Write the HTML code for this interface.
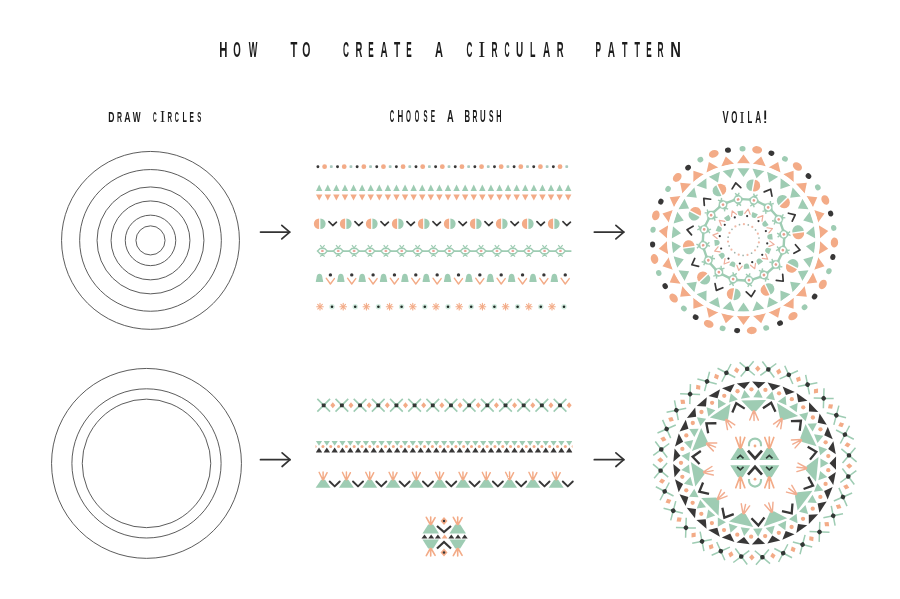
<!DOCTYPE html><html><head><meta charset="utf-8"><style>html,body{margin:0;padding:0;background:#fff;}body{width:900px;height:599px;overflow:hidden;}svg{display:block;}</style></head><body>
<svg width="900" height="599" viewBox="0 0 900 599">
<rect width="900" height="599" fill="#fff"/>
<g style="filter:grayscale(1)">
<text transform="translate(219.26,57) scale(0.5121,1)" font-family='"Liberation Sans", sans-serif' font-weight="bold" font-size="22.17" fill="#1c1c1c">H</text>
<text transform="translate(233.31,57) scale(0.4411,1)" font-family='"Liberation Sans", sans-serif' font-weight="bold" font-size="21.86" fill="#1c1c1c">O</text>
<text transform="translate(248.7,57) scale(0.4126,1)" font-family='"Liberation Sans", sans-serif' font-weight="bold" font-size="22.17" fill="#1c1c1c">W</text>
<text transform="translate(290.59,57) scale(0.5045,1)" font-family='"Liberation Sans", sans-serif' font-weight="bold" font-size="22.17" fill="#1c1c1c">T</text>
<text transform="translate(302.28,57) scale(0.4806,1)" font-family='"Liberation Sans", sans-serif' font-weight="bold" font-size="21.86" fill="#1c1c1c">O</text>
<text transform="translate(342.97,57) scale(0.3772,1)" font-family='"Liberation Sans", sans-serif' font-weight="bold" font-size="21.86" fill="#1c1c1c">C</text>
<text transform="translate(355.39,57) scale(0.4261,1)" font-family='"Liberation Sans", sans-serif' font-weight="bold" font-size="22.17" fill="#1c1c1c">R</text>
<text transform="translate(368.17,57) scale(0.3672,1)" font-family='"Liberation Sans", sans-serif' font-weight="bold" font-size="22.17" fill="#1c1c1c">E</text>
<text transform="translate(380.45,57) scale(0.4442,1)" font-family='"Liberation Sans", sans-serif' font-weight="bold" font-size="22.17" fill="#1c1c1c">A</text>
<text transform="translate(393.9,57) scale(0.4586,1)" font-family='"Liberation Sans", sans-serif' font-weight="bold" font-size="22.17" fill="#1c1c1c">T</text>
<text transform="translate(406.17,57) scale(0.3672,1)" font-family='"Liberation Sans", sans-serif' font-weight="bold" font-size="22.17" fill="#1c1c1c">E</text>
<text transform="translate(435.02,57) scale(0.4981,1)" font-family='"Liberation Sans", sans-serif' font-weight="bold" font-size="22.17" fill="#1c1c1c">A</text>
<text transform="translate(466.38,57) scale(0.3702,1)" font-family='"Liberation Sans", sans-serif' font-weight="bold" font-size="21.86" fill="#1c1c1c">C</text>
<text transform="translate(478.16,57) scale(0.9047,1)" font-family='"Liberation Serif", serif' font-weight="normal" font-size="23.36" fill="#1c1c1c">I</text>
<text transform="translate(491.46,57) scale(0.3764,1)" font-family='"Liberation Sans", sans-serif' font-weight="bold" font-size="22.17" fill="#1c1c1c">R</text>
<text transform="translate(504.42,57) scale(0.3213,1)" font-family='"Liberation Sans", sans-serif' font-weight="bold" font-size="21.86" fill="#1c1c1c">C</text>
<text transform="translate(516.1,57) scale(0.4510,1)" font-family='"Liberation Sans", sans-serif' font-weight="bold" font-size="22.17" fill="#1c1c1c">U</text>
<text transform="translate(530.12,57) scale(0.4028,1)" font-family='"Liberation Sans", sans-serif' font-weight="bold" font-size="22.17" fill="#1c1c1c">L</text>
<text transform="translate(543.05,57) scale(0.4510,1)" font-family='"Liberation Sans", sans-serif' font-weight="bold" font-size="22.17" fill="#1c1c1c">A</text>
<text transform="translate(556.69,57) scale(0.4261,1)" font-family='"Liberation Sans", sans-serif' font-weight="bold" font-size="22.17" fill="#1c1c1c">R</text>
<text transform="translate(595.46,57) scale(0.3719,1)" font-family='"Liberation Sans", sans-serif' font-weight="bold" font-size="22.17" fill="#1c1c1c">P</text>
<text transform="translate(607.75,57) scale(0.4510,1)" font-family='"Liberation Sans", sans-serif' font-weight="bold" font-size="22.17" fill="#1c1c1c">A</text>
<text transform="translate(621.91,57) scale(0.4051,1)" font-family='"Liberation Sans", sans-serif' font-weight="bold" font-size="22.17" fill="#1c1c1c">T</text>
<text transform="translate(634.61,57) scale(0.4051,1)" font-family='"Liberation Sans", sans-serif' font-weight="bold" font-size="22.17" fill="#1c1c1c">T</text>
<text transform="translate(646.17,57) scale(0.3672,1)" font-family='"Liberation Sans", sans-serif' font-weight="bold" font-size="22.17" fill="#1c1c1c">E</text>
<text transform="translate(657.46,57) scale(0.3764,1)" font-family='"Liberation Sans", sans-serif' font-weight="bold" font-size="22.17" fill="#1c1c1c">R</text>
<text transform="translate(670.34,57) scale(0.6650,1)" font-family='"Liberation Sans", sans-serif' font-weight="bold" font-size="22.17" fill="#1c1c1c">N</text>
<text transform="translate(108.34,122) scale(0.5718,1)" font-family='"Liberation Sans", sans-serif' font-weight="bold" font-size="15.07" fill="#1c1c1c">D</text>
<text transform="translate(117.05,122) scale(0.4597,1)" font-family='"Liberation Sans", sans-serif' font-weight="bold" font-size="15.07" fill="#1c1c1c">R</text>
<text transform="translate(124.18,122) scale(0.5842,1)" font-family='"Liberation Sans", sans-serif' font-weight="bold" font-size="15.07" fill="#1c1c1c">A</text>
<text transform="translate(132.8,122) scale(0.5505,1)" font-family='"Liberation Sans", sans-serif' font-weight="bold" font-size="15.07" fill="#1c1c1c">W</text>
<text transform="translate(152.9,122) scale(0.3391,1)" font-family='"Liberation Sans", sans-serif' font-weight="bold" font-size="14.86" fill="#1c1c1c">C</text>
<text transform="translate(159.96,122) scale(0.9744,1)" font-family='"Liberation Serif", serif' font-weight="normal" font-size="15.88" fill="#1c1c1c">I</text>
<text transform="translate(167.59,122) scale(0.4179,1)" font-family='"Liberation Sans", sans-serif' font-weight="bold" font-size="15.07" fill="#1c1c1c">R</text>
<text transform="translate(174.77,122) scale(0.3802,1)" font-family='"Liberation Sans", sans-serif' font-weight="bold" font-size="14.86" fill="#1c1c1c">C</text>
<text transform="translate(182.53,122) scale(0.4767,1)" font-family='"Liberation Sans", sans-serif' font-weight="bold" font-size="15.07" fill="#1c1c1c">L</text>
<text transform="translate(189.57,122) scale(0.4345,1)" font-family='"Liberation Sans", sans-serif' font-weight="bold" font-size="15.07" fill="#1c1c1c">E</text>
<text transform="translate(197.22,122) scale(0.4038,1)" font-family='"Liberation Sans", sans-serif' font-weight="bold" font-size="14.86" fill="#1c1c1c">S</text>
<text transform="translate(389.76,122.2) scale(0.3886,1)" font-family='"Liberation Sans", sans-serif' font-weight="bold" font-size="15.71" fill="#1c1c1c">C</text>
<text transform="translate(397.48,122.2) scale(0.4997,1)" font-family='"Liberation Sans", sans-serif' font-weight="bold" font-size="15.94" fill="#1c1c1c">H</text>
<text transform="translate(406.05,122.2) scale(0.4029,1)" font-family='"Liberation Sans", sans-serif' font-weight="bold" font-size="15.71" fill="#1c1c1c">O</text>
<text transform="translate(414.77,122.2) scale(0.3663,1)" font-family='"Liberation Sans", sans-serif' font-weight="bold" font-size="15.71" fill="#1c1c1c">O</text>
<text transform="translate(423.52,122.2) scale(0.3818,1)" font-family='"Liberation Sans", sans-serif' font-weight="bold" font-size="15.71" fill="#1c1c1c">S</text>
<text transform="translate(430.87,122.2) scale(0.4108,1)" font-family='"Liberation Sans", sans-serif' font-weight="bold" font-size="15.94" fill="#1c1c1c">E</text>
<text transform="translate(446.97,122.2) scale(0.5805,1)" font-family='"Liberation Sans", sans-serif' font-weight="bold" font-size="15.94" fill="#1c1c1c">A</text>
<text transform="translate(464.4,122.2) scale(0.4833,1)" font-family='"Liberation Sans", sans-serif' font-weight="bold" font-size="15.94" fill="#1c1c1c">B</text>
<text transform="translate(472.46,122.2) scale(0.4248,1)" font-family='"Liberation Sans", sans-serif' font-weight="bold" font-size="15.94" fill="#1c1c1c">R</text>
<text transform="translate(479.93,122.2) scale(0.4914,1)" font-family='"Liberation Sans", sans-serif' font-weight="bold" font-size="15.94" fill="#1c1c1c">U</text>
<text transform="translate(488.9,122.2) scale(0.4242,1)" font-family='"Liberation Sans", sans-serif' font-weight="bold" font-size="15.71" fill="#1c1c1c">S</text>
<text transform="translate(496.23,122.2) scale(0.4572,1)" font-family='"Liberation Sans", sans-serif' font-weight="bold" font-size="15.94" fill="#1c1c1c">H</text>
<text transform="translate(722.41,123) scale(0.5790,1)" font-family='"Liberation Sans", sans-serif' font-weight="bold" font-size="15.94" fill="#1c1c1c">V</text>
<text transform="translate(731.18,123) scale(0.5036,1)" font-family='"Liberation Sans", sans-serif' font-weight="bold" font-size="15.71" fill="#1c1c1c">O</text>
<text transform="translate(739.47,123) scale(0.8988,1)" font-family='"Liberation Serif", serif' font-weight="normal" font-size="16.79" fill="#1c1c1c">I</text>
<text transform="translate(747.5,123) scale(0.4872,1)" font-family='"Liberation Sans", sans-serif' font-weight="bold" font-size="15.94" fill="#1c1c1c">L</text>
<text transform="translate(755.29,123) scale(0.5149,1)" font-family='"Liberation Sans", sans-serif' font-weight="bold" font-size="15.94" fill="#1c1c1c">A</text>
<rect x="764.3" y="110.5" width="1.8" height="9" fill="#1c1c1c"/><rect x="764.3" y="121.2" width="1.8" height="1.8" fill="#1c1c1c"/>
</g>
<g fill="none" stroke="#4a4a4a" stroke-width="0.9">
<circle cx="150.5" cy="240.4" r="88.95"/>
<circle cx="150.5" cy="240.4" r="70.85"/>
<circle cx="150.5" cy="240.4" r="53.45"/>
<circle cx="150.5" cy="240.4" r="39.45"/>
<circle cx="150.5" cy="240.4" r="25.25"/>
<circle cx="150.5" cy="240.4" r="14.55"/>
<circle cx="146.5" cy="463.4" r="94.95"/>
<circle cx="146.5" cy="463.4" r="74.6"/>
<circle cx="146.5" cy="463.4" r="64.25"/>
</g>
<g fill="none" stroke="#333" stroke-width="1.7" stroke-linecap="round" stroke-linejoin="round"><line x1="260.5" y1="232.1" x2="289.7" y2="232.1"/><polyline points="281.8,225.3 289.7,232.1 281.8,238.9"/></g>
<g fill="none" stroke="#333" stroke-width="1.7" stroke-linecap="round" stroke-linejoin="round"><line x1="594.3" y1="232.1" x2="623.8" y2="232.1"/><polyline points="615.9,225.3 623.8,232.1 615.9,238.9"/></g>
<g fill="none" stroke="#333" stroke-width="1.7" stroke-linecap="round" stroke-linejoin="round"><line x1="260.5" y1="459.7" x2="290" y2="459.7"/><polyline points="282.1,452.9 290,459.7 282.1,466.5"/></g>
<g fill="none" stroke="#333" stroke-width="1.7" stroke-linecap="round" stroke-linejoin="round"><line x1="594.3" y1="459.7" x2="623.8" y2="459.7"/><polyline points="615.9,452.9 623.8,459.7 615.9,466.5"/></g>
<circle cx="317.9" cy="166.7" r="1.45" fill="#383737"/>
<circle cx="324.6" cy="166.7" r="2.4" fill="#F3AB87"/>
<rect x="329.9" y="165.3" width="2.8" height="2.8" rx="0.8" fill="#a9c9bf"/>
<circle cx="337.52" cy="166.7" r="1.45" fill="#383737"/>
<circle cx="344.22" cy="166.7" r="2.4" fill="#F3AB87"/>
<rect x="349.52" y="165.3" width="2.8" height="2.8" rx="0.8" fill="#a9c9bf"/>
<circle cx="357.14" cy="166.7" r="1.45" fill="#383737"/>
<circle cx="363.84" cy="166.7" r="2.4" fill="#F3AB87"/>
<rect x="369.14" y="165.3" width="2.8" height="2.8" rx="0.8" fill="#a9c9bf"/>
<circle cx="376.76" cy="166.7" r="1.45" fill="#383737"/>
<circle cx="383.46" cy="166.7" r="2.4" fill="#F3AB87"/>
<rect x="388.76" y="165.3" width="2.8" height="2.8" rx="0.8" fill="#a9c9bf"/>
<circle cx="396.38" cy="166.7" r="1.45" fill="#383737"/>
<circle cx="403.08" cy="166.7" r="2.4" fill="#F3AB87"/>
<rect x="408.38" y="165.3" width="2.8" height="2.8" rx="0.8" fill="#a9c9bf"/>
<circle cx="416" cy="166.7" r="1.45" fill="#383737"/>
<circle cx="422.7" cy="166.7" r="2.4" fill="#F3AB87"/>
<rect x="428" y="165.3" width="2.8" height="2.8" rx="0.8" fill="#a9c9bf"/>
<circle cx="435.62" cy="166.7" r="1.45" fill="#383737"/>
<circle cx="442.32" cy="166.7" r="2.4" fill="#F3AB87"/>
<rect x="447.62" y="165.3" width="2.8" height="2.8" rx="0.8" fill="#a9c9bf"/>
<circle cx="455.24" cy="166.7" r="1.45" fill="#383737"/>
<circle cx="461.94" cy="166.7" r="2.4" fill="#F3AB87"/>
<rect x="467.24" y="165.3" width="2.8" height="2.8" rx="0.8" fill="#a9c9bf"/>
<circle cx="474.86" cy="166.7" r="1.45" fill="#383737"/>
<circle cx="481.56" cy="166.7" r="2.4" fill="#F3AB87"/>
<rect x="486.86" y="165.3" width="2.8" height="2.8" rx="0.8" fill="#a9c9bf"/>
<circle cx="494.48" cy="166.7" r="1.45" fill="#383737"/>
<circle cx="501.18" cy="166.7" r="2.4" fill="#F3AB87"/>
<rect x="506.48" y="165.3" width="2.8" height="2.8" rx="0.8" fill="#a9c9bf"/>
<circle cx="514.1" cy="166.7" r="1.45" fill="#383737"/>
<circle cx="520.8" cy="166.7" r="2.4" fill="#F3AB87"/>
<rect x="526.1" y="165.3" width="2.8" height="2.8" rx="0.8" fill="#a9c9bf"/>
<circle cx="533.72" cy="166.7" r="1.45" fill="#383737"/>
<circle cx="540.42" cy="166.7" r="2.4" fill="#F3AB87"/>
<rect x="545.72" y="165.3" width="2.8" height="2.8" rx="0.8" fill="#a9c9bf"/>
<circle cx="553.34" cy="166.7" r="1.45" fill="#383737"/>
<circle cx="560.04" cy="166.7" r="2.4" fill="#F3AB87"/>
<rect x="565.34" y="165.3" width="2.8" height="2.8" rx="0.8" fill="#a9c9bf"/>
<polygon points="319.2,184.4 322.4,190.9 316,190.9" fill="#9ECCB3"/>
<polygon points="316,194.5 322.4,194.5 319.2,200.6" fill="#F3AB87"/>
<polygon points="327.79,184.4 330.99,190.9 324.59,190.9" fill="#9ECCB3"/>
<polygon points="324.59,194.5 330.99,194.5 327.79,200.6" fill="#F3AB87"/>
<polygon points="336.37,184.4 339.57,190.9 333.17,190.9" fill="#9ECCB3"/>
<polygon points="333.17,194.5 339.57,194.5 336.37,200.6" fill="#F3AB87"/>
<polygon points="344.96,184.4 348.16,190.9 341.76,190.9" fill="#9ECCB3"/>
<polygon points="341.76,194.5 348.16,194.5 344.96,200.6" fill="#F3AB87"/>
<polygon points="353.54,184.4 356.74,190.9 350.34,190.9" fill="#9ECCB3"/>
<polygon points="350.34,194.5 356.74,194.5 353.54,200.6" fill="#F3AB87"/>
<polygon points="362.13,184.4 365.33,190.9 358.93,190.9" fill="#9ECCB3"/>
<polygon points="358.93,194.5 365.33,194.5 362.13,200.6" fill="#F3AB87"/>
<polygon points="370.72,184.4 373.92,190.9 367.52,190.9" fill="#9ECCB3"/>
<polygon points="367.52,194.5 373.92,194.5 370.72,200.6" fill="#F3AB87"/>
<polygon points="379.3,184.4 382.5,190.9 376.1,190.9" fill="#9ECCB3"/>
<polygon points="376.1,194.5 382.5,194.5 379.3,200.6" fill="#F3AB87"/>
<polygon points="387.89,184.4 391.09,190.9 384.69,190.9" fill="#9ECCB3"/>
<polygon points="384.69,194.5 391.09,194.5 387.89,200.6" fill="#F3AB87"/>
<polygon points="396.47,184.4 399.67,190.9 393.27,190.9" fill="#9ECCB3"/>
<polygon points="393.27,194.5 399.67,194.5 396.47,200.6" fill="#F3AB87"/>
<polygon points="405.06,184.4 408.26,190.9 401.86,190.9" fill="#9ECCB3"/>
<polygon points="401.86,194.5 408.26,194.5 405.06,200.6" fill="#F3AB87"/>
<polygon points="413.65,184.4 416.85,190.9 410.45,190.9" fill="#9ECCB3"/>
<polygon points="410.45,194.5 416.85,194.5 413.65,200.6" fill="#F3AB87"/>
<polygon points="422.23,184.4 425.43,190.9 419.03,190.9" fill="#9ECCB3"/>
<polygon points="419.03,194.5 425.43,194.5 422.23,200.6" fill="#F3AB87"/>
<polygon points="430.82,184.4 434.02,190.9 427.62,190.9" fill="#9ECCB3"/>
<polygon points="427.62,194.5 434.02,194.5 430.82,200.6" fill="#F3AB87"/>
<polygon points="439.4,184.4 442.6,190.9 436.2,190.9" fill="#9ECCB3"/>
<polygon points="436.2,194.5 442.6,194.5 439.4,200.6" fill="#F3AB87"/>
<polygon points="447.99,184.4 451.19,190.9 444.79,190.9" fill="#9ECCB3"/>
<polygon points="444.79,194.5 451.19,194.5 447.99,200.6" fill="#F3AB87"/>
<polygon points="456.58,184.4 459.78,190.9 453.38,190.9" fill="#9ECCB3"/>
<polygon points="453.38,194.5 459.78,194.5 456.58,200.6" fill="#F3AB87"/>
<polygon points="465.16,184.4 468.36,190.9 461.96,190.9" fill="#9ECCB3"/>
<polygon points="461.96,194.5 468.36,194.5 465.16,200.6" fill="#F3AB87"/>
<polygon points="473.75,184.4 476.95,190.9 470.55,190.9" fill="#9ECCB3"/>
<polygon points="470.55,194.5 476.95,194.5 473.75,200.6" fill="#F3AB87"/>
<polygon points="482.33,184.4 485.53,190.9 479.13,190.9" fill="#9ECCB3"/>
<polygon points="479.13,194.5 485.53,194.5 482.33,200.6" fill="#F3AB87"/>
<polygon points="490.92,184.4 494.12,190.9 487.72,190.9" fill="#9ECCB3"/>
<polygon points="487.72,194.5 494.12,194.5 490.92,200.6" fill="#F3AB87"/>
<polygon points="499.51,184.4 502.71,190.9 496.31,190.9" fill="#9ECCB3"/>
<polygon points="496.31,194.5 502.71,194.5 499.51,200.6" fill="#F3AB87"/>
<polygon points="508.09,184.4 511.29,190.9 504.89,190.9" fill="#9ECCB3"/>
<polygon points="504.89,194.5 511.29,194.5 508.09,200.6" fill="#F3AB87"/>
<polygon points="516.68,184.4 519.88,190.9 513.48,190.9" fill="#9ECCB3"/>
<polygon points="513.48,194.5 519.88,194.5 516.68,200.6" fill="#F3AB87"/>
<polygon points="525.26,184.4 528.46,190.9 522.06,190.9" fill="#9ECCB3"/>
<polygon points="522.06,194.5 528.46,194.5 525.26,200.6" fill="#F3AB87"/>
<polygon points="533.85,184.4 537.05,190.9 530.65,190.9" fill="#9ECCB3"/>
<polygon points="530.65,194.5 537.05,194.5 533.85,200.6" fill="#F3AB87"/>
<polygon points="542.44,184.4 545.64,190.9 539.24,190.9" fill="#9ECCB3"/>
<polygon points="539.24,194.5 545.64,194.5 542.44,200.6" fill="#F3AB87"/>
<polygon points="551.02,184.4 554.22,190.9 547.82,190.9" fill="#9ECCB3"/>
<polygon points="547.82,194.5 554.22,194.5 551.02,200.6" fill="#F3AB87"/>
<polygon points="559.61,184.4 562.81,190.9 556.41,190.9" fill="#9ECCB3"/>
<polygon points="556.41,194.5 562.81,194.5 559.61,200.6" fill="#F3AB87"/>
<polygon points="568.19,184.4 571.39,190.9 564.99,190.9" fill="#9ECCB3"/>
<polygon points="564.99,194.5 571.39,194.5 568.19,200.6" fill="#F3AB87"/>
<path d="M319.1,218.45 A5.25,5.25 0 0 0 319.1,228.95 Z" fill="#F3AB87"/>
<path d="M320.4,218.45 A5.25,5.25 0 0 1 320.4,228.95 Z" fill="#9ECCB3"/>
<polyline points="328.95,221.7 332.75,225.5 336.45,222.2" fill="none" stroke="#383737" stroke-width="1.7" stroke-linecap="round" stroke-linejoin="round"/>
<path d="M345.1,218.45 A5.25,5.25 0 0 0 345.1,228.95 Z" fill="#F3AB87"/>
<path d="M346.4,218.45 A5.25,5.25 0 0 1 346.4,228.95 Z" fill="#9ECCB3"/>
<polyline points="354.95,221.7 358.75,225.5 362.45,222.2" fill="none" stroke="#383737" stroke-width="1.7" stroke-linecap="round" stroke-linejoin="round"/>
<path d="M371.1,218.45 A5.25,5.25 0 0 0 371.1,228.95 Z" fill="#F3AB87"/>
<path d="M372.4,218.45 A5.25,5.25 0 0 1 372.4,228.95 Z" fill="#9ECCB3"/>
<polyline points="380.95,221.7 384.75,225.5 388.45,222.2" fill="none" stroke="#383737" stroke-width="1.7" stroke-linecap="round" stroke-linejoin="round"/>
<path d="M397.1,218.45 A5.25,5.25 0 0 0 397.1,228.95 Z" fill="#F3AB87"/>
<path d="M398.4,218.45 A5.25,5.25 0 0 1 398.4,228.95 Z" fill="#9ECCB3"/>
<polyline points="406.95,221.7 410.75,225.5 414.45,222.2" fill="none" stroke="#383737" stroke-width="1.7" stroke-linecap="round" stroke-linejoin="round"/>
<path d="M423.1,218.45 A5.25,5.25 0 0 0 423.1,228.95 Z" fill="#F3AB87"/>
<path d="M424.4,218.45 A5.25,5.25 0 0 1 424.4,228.95 Z" fill="#9ECCB3"/>
<polyline points="432.95,221.7 436.75,225.5 440.45,222.2" fill="none" stroke="#383737" stroke-width="1.7" stroke-linecap="round" stroke-linejoin="round"/>
<path d="M449.1,218.45 A5.25,5.25 0 0 0 449.1,228.95 Z" fill="#F3AB87"/>
<path d="M450.4,218.45 A5.25,5.25 0 0 1 450.4,228.95 Z" fill="#9ECCB3"/>
<polyline points="458.95,221.7 462.75,225.5 466.45,222.2" fill="none" stroke="#383737" stroke-width="1.7" stroke-linecap="round" stroke-linejoin="round"/>
<path d="M475.1,218.45 A5.25,5.25 0 0 0 475.1,228.95 Z" fill="#F3AB87"/>
<path d="M476.4,218.45 A5.25,5.25 0 0 1 476.4,228.95 Z" fill="#9ECCB3"/>
<polyline points="484.95,221.7 488.75,225.5 492.45,222.2" fill="none" stroke="#383737" stroke-width="1.7" stroke-linecap="round" stroke-linejoin="round"/>
<path d="M501.1,218.45 A5.25,5.25 0 0 0 501.1,228.95 Z" fill="#F3AB87"/>
<path d="M502.4,218.45 A5.25,5.25 0 0 1 502.4,228.95 Z" fill="#9ECCB3"/>
<polyline points="510.95,221.7 514.75,225.5 518.45,222.2" fill="none" stroke="#383737" stroke-width="1.7" stroke-linecap="round" stroke-linejoin="round"/>
<path d="M527.1,218.45 A5.25,5.25 0 0 0 527.1,228.95 Z" fill="#F3AB87"/>
<path d="M528.4,218.45 A5.25,5.25 0 0 1 528.4,228.95 Z" fill="#9ECCB3"/>
<polyline points="536.95,221.7 540.75,225.5 544.45,222.2" fill="none" stroke="#383737" stroke-width="1.7" stroke-linecap="round" stroke-linejoin="round"/>
<path d="M553.1,218.45 A5.25,5.25 0 0 0 553.1,228.95 Z" fill="#F3AB87"/>
<path d="M554.4,218.45 A5.25,5.25 0 0 1 554.4,228.95 Z" fill="#9ECCB3"/>
<polyline points="562.95,221.7 566.75,225.5 570.45,222.2" fill="none" stroke="#383737" stroke-width="1.7" stroke-linecap="round" stroke-linejoin="round"/>
<line x1="318" y1="251.1" x2="571.4" y2="251.1" stroke="#9ECCB3" stroke-width="1.9"/>
<polygon points="317.5,251.1 320.2,248.5 324.6,248.5 327.3,251.1 324.6,253.7 320.2,253.7" fill="#fff" stroke="#9ECCB3" stroke-width="1.4" stroke-linejoin="miter"/>
<ellipse cx="322.4" cy="251" rx="1.5" ry="1.1" fill="#eb9f93"/>
<polyline points="320.2,245.1 322.4,247.9 324.6,245" fill="none" stroke="#9ECCB3" stroke-width="1.2"/>
<polyline points="320.2,256.7 322.4,254.3 324.6,256.7" fill="none" stroke="#9ECCB3" stroke-width="1.2"/>
<polygon points="333.37,251.1 336.07,248.5 340.47,248.5 343.17,251.1 340.47,253.7 336.07,253.7" fill="#fff" stroke="#9ECCB3" stroke-width="1.4" stroke-linejoin="miter"/>
<ellipse cx="338.27" cy="251" rx="1.5" ry="1.1" fill="#eb9f93"/>
<polyline points="336.07,245.1 338.27,247.9 340.47,245" fill="none" stroke="#9ECCB3" stroke-width="1.2"/>
<polyline points="336.07,256.7 338.27,254.3 340.47,256.7" fill="none" stroke="#9ECCB3" stroke-width="1.2"/>
<polygon points="349.24,251.1 351.94,248.5 356.34,248.5 359.04,251.1 356.34,253.7 351.94,253.7" fill="#fff" stroke="#9ECCB3" stroke-width="1.4" stroke-linejoin="miter"/>
<ellipse cx="354.14" cy="251" rx="1.5" ry="1.1" fill="#eb9f93"/>
<polyline points="351.94,245.1 354.14,247.9 356.34,245" fill="none" stroke="#9ECCB3" stroke-width="1.2"/>
<polyline points="351.94,256.7 354.14,254.3 356.34,256.7" fill="none" stroke="#9ECCB3" stroke-width="1.2"/>
<polygon points="365.11,251.1 367.81,248.5 372.21,248.5 374.91,251.1 372.21,253.7 367.81,253.7" fill="#fff" stroke="#9ECCB3" stroke-width="1.4" stroke-linejoin="miter"/>
<ellipse cx="370.01" cy="251" rx="1.5" ry="1.1" fill="#eb9f93"/>
<polyline points="367.81,245.1 370.01,247.9 372.21,245" fill="none" stroke="#9ECCB3" stroke-width="1.2"/>
<polyline points="367.81,256.7 370.01,254.3 372.21,256.7" fill="none" stroke="#9ECCB3" stroke-width="1.2"/>
<polygon points="380.98,251.1 383.68,248.5 388.08,248.5 390.78,251.1 388.08,253.7 383.68,253.7" fill="#fff" stroke="#9ECCB3" stroke-width="1.4" stroke-linejoin="miter"/>
<ellipse cx="385.88" cy="251" rx="1.5" ry="1.1" fill="#eb9f93"/>
<polyline points="383.68,245.1 385.88,247.9 388.08,245" fill="none" stroke="#9ECCB3" stroke-width="1.2"/>
<polyline points="383.68,256.7 385.88,254.3 388.08,256.7" fill="none" stroke="#9ECCB3" stroke-width="1.2"/>
<polygon points="396.85,251.1 399.55,248.5 403.95,248.5 406.65,251.1 403.95,253.7 399.55,253.7" fill="#fff" stroke="#9ECCB3" stroke-width="1.4" stroke-linejoin="miter"/>
<ellipse cx="401.75" cy="251" rx="1.5" ry="1.1" fill="#eb9f93"/>
<polyline points="399.55,245.1 401.75,247.9 403.95,245" fill="none" stroke="#9ECCB3" stroke-width="1.2"/>
<polyline points="399.55,256.7 401.75,254.3 403.95,256.7" fill="none" stroke="#9ECCB3" stroke-width="1.2"/>
<polygon points="412.72,251.1 415.42,248.5 419.82,248.5 422.52,251.1 419.82,253.7 415.42,253.7" fill="#fff" stroke="#9ECCB3" stroke-width="1.4" stroke-linejoin="miter"/>
<ellipse cx="417.62" cy="251" rx="1.5" ry="1.1" fill="#eb9f93"/>
<polyline points="415.42,245.1 417.62,247.9 419.82,245" fill="none" stroke="#9ECCB3" stroke-width="1.2"/>
<polyline points="415.42,256.7 417.62,254.3 419.82,256.7" fill="none" stroke="#9ECCB3" stroke-width="1.2"/>
<polygon points="428.59,251.1 431.29,248.5 435.69,248.5 438.39,251.1 435.69,253.7 431.29,253.7" fill="#fff" stroke="#9ECCB3" stroke-width="1.4" stroke-linejoin="miter"/>
<ellipse cx="433.49" cy="251" rx="1.5" ry="1.1" fill="#eb9f93"/>
<polyline points="431.29,245.1 433.49,247.9 435.69,245" fill="none" stroke="#9ECCB3" stroke-width="1.2"/>
<polyline points="431.29,256.7 433.49,254.3 435.69,256.7" fill="none" stroke="#9ECCB3" stroke-width="1.2"/>
<polygon points="444.46,251.1 447.16,248.5 451.56,248.5 454.26,251.1 451.56,253.7 447.16,253.7" fill="#fff" stroke="#9ECCB3" stroke-width="1.4" stroke-linejoin="miter"/>
<ellipse cx="449.36" cy="251" rx="1.5" ry="1.1" fill="#eb9f93"/>
<polyline points="447.16,245.1 449.36,247.9 451.56,245" fill="none" stroke="#9ECCB3" stroke-width="1.2"/>
<polyline points="447.16,256.7 449.36,254.3 451.56,256.7" fill="none" stroke="#9ECCB3" stroke-width="1.2"/>
<polygon points="460.33,251.1 463.03,248.5 467.43,248.5 470.13,251.1 467.43,253.7 463.03,253.7" fill="#fff" stroke="#9ECCB3" stroke-width="1.4" stroke-linejoin="miter"/>
<ellipse cx="465.23" cy="251" rx="1.5" ry="1.1" fill="#eb9f93"/>
<polyline points="463.03,245.1 465.23,247.9 467.43,245" fill="none" stroke="#9ECCB3" stroke-width="1.2"/>
<polyline points="463.03,256.7 465.23,254.3 467.43,256.7" fill="none" stroke="#9ECCB3" stroke-width="1.2"/>
<polygon points="476.2,251.1 478.9,248.5 483.3,248.5 486,251.1 483.3,253.7 478.9,253.7" fill="#fff" stroke="#9ECCB3" stroke-width="1.4" stroke-linejoin="miter"/>
<ellipse cx="481.1" cy="251" rx="1.5" ry="1.1" fill="#eb9f93"/>
<polyline points="478.9,245.1 481.1,247.9 483.3,245" fill="none" stroke="#9ECCB3" stroke-width="1.2"/>
<polyline points="478.9,256.7 481.1,254.3 483.3,256.7" fill="none" stroke="#9ECCB3" stroke-width="1.2"/>
<polygon points="492.07,251.1 494.77,248.5 499.17,248.5 501.87,251.1 499.17,253.7 494.77,253.7" fill="#fff" stroke="#9ECCB3" stroke-width="1.4" stroke-linejoin="miter"/>
<ellipse cx="496.97" cy="251" rx="1.5" ry="1.1" fill="#eb9f93"/>
<polyline points="494.77,245.1 496.97,247.9 499.17,245" fill="none" stroke="#9ECCB3" stroke-width="1.2"/>
<polyline points="494.77,256.7 496.97,254.3 499.17,256.7" fill="none" stroke="#9ECCB3" stroke-width="1.2"/>
<polygon points="507.94,251.1 510.64,248.5 515.04,248.5 517.74,251.1 515.04,253.7 510.64,253.7" fill="#fff" stroke="#9ECCB3" stroke-width="1.4" stroke-linejoin="miter"/>
<ellipse cx="512.84" cy="251" rx="1.5" ry="1.1" fill="#eb9f93"/>
<polyline points="510.64,245.1 512.84,247.9 515.04,245" fill="none" stroke="#9ECCB3" stroke-width="1.2"/>
<polyline points="510.64,256.7 512.84,254.3 515.04,256.7" fill="none" stroke="#9ECCB3" stroke-width="1.2"/>
<polygon points="523.81,251.1 526.51,248.5 530.91,248.5 533.61,251.1 530.91,253.7 526.51,253.7" fill="#fff" stroke="#9ECCB3" stroke-width="1.4" stroke-linejoin="miter"/>
<ellipse cx="528.71" cy="251" rx="1.5" ry="1.1" fill="#eb9f93"/>
<polyline points="526.51,245.1 528.71,247.9 530.91,245" fill="none" stroke="#9ECCB3" stroke-width="1.2"/>
<polyline points="526.51,256.7 528.71,254.3 530.91,256.7" fill="none" stroke="#9ECCB3" stroke-width="1.2"/>
<polygon points="539.68,251.1 542.38,248.5 546.78,248.5 549.48,251.1 546.78,253.7 542.38,253.7" fill="#fff" stroke="#9ECCB3" stroke-width="1.4" stroke-linejoin="miter"/>
<ellipse cx="544.58" cy="251" rx="1.5" ry="1.1" fill="#eb9f93"/>
<polyline points="542.38,245.1 544.58,247.9 546.78,245" fill="none" stroke="#9ECCB3" stroke-width="1.2"/>
<polyline points="542.38,256.7 544.58,254.3 546.78,256.7" fill="none" stroke="#9ECCB3" stroke-width="1.2"/>
<polygon points="555.55,251.1 558.25,248.5 562.65,248.5 565.35,251.1 562.65,253.7 558.25,253.7" fill="#fff" stroke="#9ECCB3" stroke-width="1.4" stroke-linejoin="miter"/>
<ellipse cx="560.45" cy="251" rx="1.5" ry="1.1" fill="#eb9f93"/>
<polyline points="558.25,245.1 560.45,247.9 562.65,245" fill="none" stroke="#9ECCB3" stroke-width="1.2"/>
<polyline points="558.25,256.7 560.45,254.3 562.65,256.7" fill="none" stroke="#9ECCB3" stroke-width="1.2"/>
<path d="M315.8,282 C315.9,279.6 316.5,279 316.6,277.2 C316.9,272.7 322.1,272.7 322.4,277.2 C322.5,279 323.1,279.6 323.2,282 Z" fill="#9ECCB3"/>
<circle cx="330.4" cy="274.9" r="1.7" fill="#383737"/>
<polyline points="326.2,278.2 330.4,284 334.4,278.6" fill="none" stroke="#F3AB87" stroke-width="1.4" stroke-linecap="round" stroke-linejoin="round"/>
<path d="M337.15,282 C337.25,279.6 337.85,279 337.95,277.2 C338.25,272.7 343.45,272.7 343.75,277.2 C343.85,279 344.45,279.6 344.55,282 Z" fill="#9ECCB3"/>
<circle cx="351.75" cy="274.9" r="1.7" fill="#383737"/>
<polyline points="347.55,278.2 351.75,284 355.75,278.6" fill="none" stroke="#F3AB87" stroke-width="1.4" stroke-linecap="round" stroke-linejoin="round"/>
<path d="M358.5,282 C358.6,279.6 359.2,279 359.3,277.2 C359.6,272.7 364.8,272.7 365.1,277.2 C365.2,279 365.8,279.6 365.9,282 Z" fill="#9ECCB3"/>
<circle cx="373.1" cy="274.9" r="1.7" fill="#383737"/>
<polyline points="368.9,278.2 373.1,284 377.1,278.6" fill="none" stroke="#F3AB87" stroke-width="1.4" stroke-linecap="round" stroke-linejoin="round"/>
<path d="M379.85,282 C379.95,279.6 380.55,279 380.65,277.2 C380.95,272.7 386.15,272.7 386.45,277.2 C386.55,279 387.15,279.6 387.25,282 Z" fill="#9ECCB3"/>
<circle cx="394.45" cy="274.9" r="1.7" fill="#383737"/>
<polyline points="390.25,278.2 394.45,284 398.45,278.6" fill="none" stroke="#F3AB87" stroke-width="1.4" stroke-linecap="round" stroke-linejoin="round"/>
<path d="M401.2,282 C401.3,279.6 401.9,279 402,277.2 C402.3,272.7 407.5,272.7 407.8,277.2 C407.9,279 408.5,279.6 408.6,282 Z" fill="#9ECCB3"/>
<circle cx="415.8" cy="274.9" r="1.7" fill="#383737"/>
<polyline points="411.6,278.2 415.8,284 419.8,278.6" fill="none" stroke="#F3AB87" stroke-width="1.4" stroke-linecap="round" stroke-linejoin="round"/>
<path d="M422.55,282 C422.65,279.6 423.25,279 423.35,277.2 C423.65,272.7 428.85,272.7 429.15,277.2 C429.25,279 429.85,279.6 429.95,282 Z" fill="#9ECCB3"/>
<circle cx="437.15" cy="274.9" r="1.7" fill="#383737"/>
<polyline points="432.95,278.2 437.15,284 441.15,278.6" fill="none" stroke="#F3AB87" stroke-width="1.4" stroke-linecap="round" stroke-linejoin="round"/>
<path d="M443.9,282 C444,279.6 444.6,279 444.7,277.2 C445,272.7 450.2,272.7 450.5,277.2 C450.6,279 451.2,279.6 451.3,282 Z" fill="#9ECCB3"/>
<circle cx="458.5" cy="274.9" r="1.7" fill="#383737"/>
<polyline points="454.3,278.2 458.5,284 462.5,278.6" fill="none" stroke="#F3AB87" stroke-width="1.4" stroke-linecap="round" stroke-linejoin="round"/>
<path d="M465.25,282 C465.35,279.6 465.95,279 466.05,277.2 C466.35,272.7 471.55,272.7 471.85,277.2 C471.95,279 472.55,279.6 472.65,282 Z" fill="#9ECCB3"/>
<circle cx="479.85" cy="274.9" r="1.7" fill="#383737"/>
<polyline points="475.65,278.2 479.85,284 483.85,278.6" fill="none" stroke="#F3AB87" stroke-width="1.4" stroke-linecap="round" stroke-linejoin="round"/>
<path d="M486.6,282 C486.7,279.6 487.3,279 487.4,277.2 C487.7,272.7 492.9,272.7 493.2,277.2 C493.3,279 493.9,279.6 494,282 Z" fill="#9ECCB3"/>
<circle cx="501.2" cy="274.9" r="1.7" fill="#383737"/>
<polyline points="497,278.2 501.2,284 505.2,278.6" fill="none" stroke="#F3AB87" stroke-width="1.4" stroke-linecap="round" stroke-linejoin="round"/>
<path d="M507.95,282 C508.05,279.6 508.65,279 508.75,277.2 C509.05,272.7 514.25,272.7 514.55,277.2 C514.65,279 515.25,279.6 515.35,282 Z" fill="#9ECCB3"/>
<circle cx="522.55" cy="274.9" r="1.7" fill="#383737"/>
<polyline points="518.35,278.2 522.55,284 526.55,278.6" fill="none" stroke="#F3AB87" stroke-width="1.4" stroke-linecap="round" stroke-linejoin="round"/>
<path d="M529.3,282 C529.4,279.6 530,279 530.1,277.2 C530.4,272.7 535.6,272.7 535.9,277.2 C536,279 536.6,279.6 536.7,282 Z" fill="#9ECCB3"/>
<circle cx="543.9" cy="274.9" r="1.7" fill="#383737"/>
<polyline points="539.7,278.2 543.9,284 547.9,278.6" fill="none" stroke="#F3AB87" stroke-width="1.4" stroke-linecap="round" stroke-linejoin="round"/>
<path d="M550.65,282 C550.75,279.6 551.35,279 551.45,277.2 C551.75,272.7 556.95,272.7 557.25,277.2 C557.35,279 557.95,279.6 558.05,282 Z" fill="#9ECCB3"/>
<circle cx="565.25" cy="274.9" r="1.7" fill="#383737"/>
<polyline points="561.05,278.2 565.25,284 569.25,278.6" fill="none" stroke="#F3AB87" stroke-width="1.4" stroke-linecap="round" stroke-linejoin="round"/>
<g stroke="#F3AB87" stroke-width="1.1" stroke-linecap="round">
<line x1="316.7" y1="306.7" x2="323.3" y2="306.7"/>
<line x1="317.67" y1="304.37" x2="322.33" y2="309.03"/>
<line x1="320" y1="303.4" x2="320" y2="310"/>
<line x1="322.33" y1="304.37" x2="317.67" y2="309.03"/>
</g>
<circle cx="332" cy="306.7" r="2.7" fill="#d3ebdf"/><circle cx="332" cy="306.7" r="1.3" fill="#1f2a26"/>
<g stroke="#F3AB87" stroke-width="1.1" stroke-linecap="round">
<line x1="339.9" y1="306.7" x2="346.5" y2="306.7"/>
<line x1="340.87" y1="304.37" x2="345.53" y2="309.03"/>
<line x1="343.2" y1="303.4" x2="343.2" y2="310"/>
<line x1="345.53" y1="304.37" x2="340.87" y2="309.03"/>
</g>
<circle cx="355.2" cy="306.7" r="2.7" fill="#d3ebdf"/><circle cx="355.2" cy="306.7" r="1.3" fill="#1f2a26"/>
<g stroke="#F3AB87" stroke-width="1.1" stroke-linecap="round">
<line x1="363.1" y1="306.7" x2="369.7" y2="306.7"/>
<line x1="364.07" y1="304.37" x2="368.73" y2="309.03"/>
<line x1="366.4" y1="303.4" x2="366.4" y2="310"/>
<line x1="368.73" y1="304.37" x2="364.07" y2="309.03"/>
</g>
<circle cx="378.4" cy="306.7" r="2.7" fill="#d3ebdf"/><circle cx="378.4" cy="306.7" r="1.3" fill="#1f2a26"/>
<g stroke="#F3AB87" stroke-width="1.1" stroke-linecap="round">
<line x1="386.3" y1="306.7" x2="392.9" y2="306.7"/>
<line x1="387.27" y1="304.37" x2="391.93" y2="309.03"/>
<line x1="389.6" y1="303.4" x2="389.6" y2="310"/>
<line x1="391.93" y1="304.37" x2="387.27" y2="309.03"/>
</g>
<circle cx="401.6" cy="306.7" r="2.7" fill="#d3ebdf"/><circle cx="401.6" cy="306.7" r="1.3" fill="#1f2a26"/>
<g stroke="#F3AB87" stroke-width="1.1" stroke-linecap="round">
<line x1="409.5" y1="306.7" x2="416.1" y2="306.7"/>
<line x1="410.47" y1="304.37" x2="415.13" y2="309.03"/>
<line x1="412.8" y1="303.4" x2="412.8" y2="310"/>
<line x1="415.13" y1="304.37" x2="410.47" y2="309.03"/>
</g>
<circle cx="424.8" cy="306.7" r="2.7" fill="#d3ebdf"/><circle cx="424.8" cy="306.7" r="1.3" fill="#1f2a26"/>
<g stroke="#F3AB87" stroke-width="1.1" stroke-linecap="round">
<line x1="432.7" y1="306.7" x2="439.3" y2="306.7"/>
<line x1="433.67" y1="304.37" x2="438.33" y2="309.03"/>
<line x1="436" y1="303.4" x2="436" y2="310"/>
<line x1="438.33" y1="304.37" x2="433.67" y2="309.03"/>
</g>
<circle cx="448" cy="306.7" r="2.7" fill="#d3ebdf"/><circle cx="448" cy="306.7" r="1.3" fill="#1f2a26"/>
<g stroke="#F3AB87" stroke-width="1.1" stroke-linecap="round">
<line x1="455.9" y1="306.7" x2="462.5" y2="306.7"/>
<line x1="456.87" y1="304.37" x2="461.53" y2="309.03"/>
<line x1="459.2" y1="303.4" x2="459.2" y2="310"/>
<line x1="461.53" y1="304.37" x2="456.87" y2="309.03"/>
</g>
<circle cx="471.2" cy="306.7" r="2.7" fill="#d3ebdf"/><circle cx="471.2" cy="306.7" r="1.3" fill="#1f2a26"/>
<g stroke="#F3AB87" stroke-width="1.1" stroke-linecap="round">
<line x1="479.1" y1="306.7" x2="485.7" y2="306.7"/>
<line x1="480.07" y1="304.37" x2="484.73" y2="309.03"/>
<line x1="482.4" y1="303.4" x2="482.4" y2="310"/>
<line x1="484.73" y1="304.37" x2="480.07" y2="309.03"/>
</g>
<circle cx="494.4" cy="306.7" r="2.7" fill="#d3ebdf"/><circle cx="494.4" cy="306.7" r="1.3" fill="#1f2a26"/>
<g stroke="#F3AB87" stroke-width="1.1" stroke-linecap="round">
<line x1="502.3" y1="306.7" x2="508.9" y2="306.7"/>
<line x1="503.27" y1="304.37" x2="507.93" y2="309.03"/>
<line x1="505.6" y1="303.4" x2="505.6" y2="310"/>
<line x1="507.93" y1="304.37" x2="503.27" y2="309.03"/>
</g>
<circle cx="517.6" cy="306.7" r="2.7" fill="#d3ebdf"/><circle cx="517.6" cy="306.7" r="1.3" fill="#1f2a26"/>
<g stroke="#F3AB87" stroke-width="1.1" stroke-linecap="round">
<line x1="525.5" y1="306.7" x2="532.1" y2="306.7"/>
<line x1="526.47" y1="304.37" x2="531.13" y2="309.03"/>
<line x1="528.8" y1="303.4" x2="528.8" y2="310"/>
<line x1="531.13" y1="304.37" x2="526.47" y2="309.03"/>
</g>
<circle cx="540.8" cy="306.7" r="2.7" fill="#d3ebdf"/><circle cx="540.8" cy="306.7" r="1.3" fill="#1f2a26"/>
<g stroke="#F3AB87" stroke-width="1.1" stroke-linecap="round">
<line x1="548.7" y1="306.7" x2="555.3" y2="306.7"/>
<line x1="549.67" y1="304.37" x2="554.33" y2="309.03"/>
<line x1="552" y1="303.4" x2="552" y2="310"/>
<line x1="554.33" y1="304.37" x2="549.67" y2="309.03"/>
</g>
<circle cx="564" cy="306.7" r="2.7" fill="#d3ebdf"/><circle cx="564" cy="306.7" r="1.3" fill="#1f2a26"/>
<g transform="translate(323.7,405.3) rotate(0)"><path d="M-6.36,-6.36 L6.36,6.36 M6.36,-6.36 L-6.36,6.36" stroke="#9ECCB3" stroke-width="1.6" stroke-linecap="butt"/><rect x="-1.9" y="-1.9" width="3.8" height="3.8" rx="0.8" fill="#333836"/></g>
<polygon transform="translate(332.79,405.3) rotate(0)" points="0,-3 2.5,0 0,3 -2.5,0" fill="#F3AB87"/>
<g transform="translate(341.88,405.3) rotate(0)"><path d="M-6.36,-6.36 L6.36,6.36 M6.36,-6.36 L-6.36,6.36" stroke="#9ECCB3" stroke-width="1.6" stroke-linecap="butt"/><rect x="-1.9" y="-1.9" width="3.8" height="3.8" rx="0.8" fill="#333836"/></g>
<polygon transform="translate(350.97,405.3) rotate(0)" points="0,-3 2.5,0 0,3 -2.5,0" fill="#F3AB87"/>
<g transform="translate(360.06,405.3) rotate(0)"><path d="M-6.36,-6.36 L6.36,6.36 M6.36,-6.36 L-6.36,6.36" stroke="#9ECCB3" stroke-width="1.6" stroke-linecap="butt"/><rect x="-1.9" y="-1.9" width="3.8" height="3.8" rx="0.8" fill="#333836"/></g>
<polygon transform="translate(369.15,405.3) rotate(0)" points="0,-3 2.5,0 0,3 -2.5,0" fill="#F3AB87"/>
<g transform="translate(378.24,405.3) rotate(0)"><path d="M-6.36,-6.36 L6.36,6.36 M6.36,-6.36 L-6.36,6.36" stroke="#9ECCB3" stroke-width="1.6" stroke-linecap="butt"/><rect x="-1.9" y="-1.9" width="3.8" height="3.8" rx="0.8" fill="#333836"/></g>
<polygon transform="translate(387.33,405.3) rotate(0)" points="0,-3 2.5,0 0,3 -2.5,0" fill="#F3AB87"/>
<g transform="translate(396.42,405.3) rotate(0)"><path d="M-6.36,-6.36 L6.36,6.36 M6.36,-6.36 L-6.36,6.36" stroke="#9ECCB3" stroke-width="1.6" stroke-linecap="butt"/><rect x="-1.9" y="-1.9" width="3.8" height="3.8" rx="0.8" fill="#333836"/></g>
<polygon transform="translate(405.51,405.3) rotate(0)" points="0,-3 2.5,0 0,3 -2.5,0" fill="#F3AB87"/>
<g transform="translate(414.6,405.3) rotate(0)"><path d="M-6.36,-6.36 L6.36,6.36 M6.36,-6.36 L-6.36,6.36" stroke="#9ECCB3" stroke-width="1.6" stroke-linecap="butt"/><rect x="-1.9" y="-1.9" width="3.8" height="3.8" rx="0.8" fill="#333836"/></g>
<polygon transform="translate(423.69,405.3) rotate(0)" points="0,-3 2.5,0 0,3 -2.5,0" fill="#F3AB87"/>
<g transform="translate(432.78,405.3) rotate(0)"><path d="M-6.36,-6.36 L6.36,6.36 M6.36,-6.36 L-6.36,6.36" stroke="#9ECCB3" stroke-width="1.6" stroke-linecap="butt"/><rect x="-1.9" y="-1.9" width="3.8" height="3.8" rx="0.8" fill="#333836"/></g>
<polygon transform="translate(441.87,405.3) rotate(0)" points="0,-3 2.5,0 0,3 -2.5,0" fill="#F3AB87"/>
<g transform="translate(450.96,405.3) rotate(0)"><path d="M-6.36,-6.36 L6.36,6.36 M6.36,-6.36 L-6.36,6.36" stroke="#9ECCB3" stroke-width="1.6" stroke-linecap="butt"/><rect x="-1.9" y="-1.9" width="3.8" height="3.8" rx="0.8" fill="#333836"/></g>
<polygon transform="translate(460.05,405.3) rotate(0)" points="0,-3 2.5,0 0,3 -2.5,0" fill="#F3AB87"/>
<g transform="translate(469.14,405.3) rotate(0)"><path d="M-6.36,-6.36 L6.36,6.36 M6.36,-6.36 L-6.36,6.36" stroke="#9ECCB3" stroke-width="1.6" stroke-linecap="butt"/><rect x="-1.9" y="-1.9" width="3.8" height="3.8" rx="0.8" fill="#333836"/></g>
<polygon transform="translate(478.23,405.3) rotate(0)" points="0,-3 2.5,0 0,3 -2.5,0" fill="#F3AB87"/>
<g transform="translate(487.32,405.3) rotate(0)"><path d="M-6.36,-6.36 L6.36,6.36 M6.36,-6.36 L-6.36,6.36" stroke="#9ECCB3" stroke-width="1.6" stroke-linecap="butt"/><rect x="-1.9" y="-1.9" width="3.8" height="3.8" rx="0.8" fill="#333836"/></g>
<polygon transform="translate(496.41,405.3) rotate(0)" points="0,-3 2.5,0 0,3 -2.5,0" fill="#F3AB87"/>
<g transform="translate(505.5,405.3) rotate(0)"><path d="M-6.36,-6.36 L6.36,6.36 M6.36,-6.36 L-6.36,6.36" stroke="#9ECCB3" stroke-width="1.6" stroke-linecap="butt"/><rect x="-1.9" y="-1.9" width="3.8" height="3.8" rx="0.8" fill="#333836"/></g>
<polygon transform="translate(514.59,405.3) rotate(0)" points="0,-3 2.5,0 0,3 -2.5,0" fill="#F3AB87"/>
<g transform="translate(523.68,405.3) rotate(0)"><path d="M-6.36,-6.36 L6.36,6.36 M6.36,-6.36 L-6.36,6.36" stroke="#9ECCB3" stroke-width="1.6" stroke-linecap="butt"/><rect x="-1.9" y="-1.9" width="3.8" height="3.8" rx="0.8" fill="#333836"/></g>
<polygon transform="translate(532.77,405.3) rotate(0)" points="0,-3 2.5,0 0,3 -2.5,0" fill="#F3AB87"/>
<g transform="translate(541.86,405.3) rotate(0)"><path d="M-6.36,-6.36 L6.36,6.36 M6.36,-6.36 L-6.36,6.36" stroke="#9ECCB3" stroke-width="1.6" stroke-linecap="butt"/><rect x="-1.9" y="-1.9" width="3.8" height="3.8" rx="0.8" fill="#333836"/></g>
<polygon transform="translate(550.95,405.3) rotate(0)" points="0,-3 2.5,0 0,3 -2.5,0" fill="#F3AB87"/>
<g transform="translate(560.04,405.3) rotate(0)"><path d="M-6.36,-6.36 L6.36,6.36 M6.36,-6.36 L-6.36,6.36" stroke="#9ECCB3" stroke-width="1.6" stroke-linecap="butt"/><rect x="-1.9" y="-1.9" width="3.8" height="3.8" rx="0.8" fill="#333836"/></g>
<polygon transform="translate(569.13,405.3) rotate(0)" points="0,-3 2.5,0 0,3 -2.5,0" fill="#F3AB87"/>
<defs><clipPath id="cb"><rect x="315.5" y="438" width="257" height="18"/></clipPath></defs>
<g clip-path="url(#cb)">
<polygon points="315.9,441 322.1,441 319,445.7" fill="#9ECCB3"/>
<polygon points="319,447.6 322.2,452.5 315.8,452.5" fill="#383737"/>
<polygon points="323.72,441 329.92,441 326.82,445.7" fill="#9ECCB3"/>
<polygon points="326.82,447.6 330.02,452.5 323.62,452.5" fill="#383737"/>
<polygon points="331.54,441 337.74,441 334.64,445.7" fill="#9ECCB3"/>
<polygon points="334.64,447.6 337.84,452.5 331.44,452.5" fill="#383737"/>
<polygon points="339.36,441 345.56,441 342.46,445.7" fill="#9ECCB3"/>
<polygon points="342.46,447.6 345.66,452.5 339.26,452.5" fill="#383737"/>
<polygon points="347.18,441 353.38,441 350.28,445.7" fill="#9ECCB3"/>
<polygon points="350.28,447.6 353.48,452.5 347.08,452.5" fill="#383737"/>
<polygon points="355,441 361.2,441 358.1,445.7" fill="#9ECCB3"/>
<polygon points="358.1,447.6 361.3,452.5 354.9,452.5" fill="#383737"/>
<polygon points="362.82,441 369.02,441 365.92,445.7" fill="#9ECCB3"/>
<polygon points="365.92,447.6 369.12,452.5 362.72,452.5" fill="#383737"/>
<polygon points="370.64,441 376.84,441 373.74,445.7" fill="#9ECCB3"/>
<polygon points="373.74,447.6 376.94,452.5 370.54,452.5" fill="#383737"/>
<polygon points="378.46,441 384.66,441 381.56,445.7" fill="#9ECCB3"/>
<polygon points="381.56,447.6 384.76,452.5 378.36,452.5" fill="#383737"/>
<polygon points="386.28,441 392.48,441 389.38,445.7" fill="#9ECCB3"/>
<polygon points="389.38,447.6 392.58,452.5 386.18,452.5" fill="#383737"/>
<polygon points="394.1,441 400.3,441 397.2,445.7" fill="#9ECCB3"/>
<polygon points="397.2,447.6 400.4,452.5 394,452.5" fill="#383737"/>
<polygon points="401.92,441 408.12,441 405.02,445.7" fill="#9ECCB3"/>
<polygon points="405.02,447.6 408.22,452.5 401.82,452.5" fill="#383737"/>
<polygon points="409.74,441 415.94,441 412.84,445.7" fill="#9ECCB3"/>
<polygon points="412.84,447.6 416.04,452.5 409.64,452.5" fill="#383737"/>
<polygon points="417.56,441 423.76,441 420.66,445.7" fill="#9ECCB3"/>
<polygon points="420.66,447.6 423.86,452.5 417.46,452.5" fill="#383737"/>
<polygon points="425.38,441 431.58,441 428.48,445.7" fill="#9ECCB3"/>
<polygon points="428.48,447.6 431.68,452.5 425.28,452.5" fill="#383737"/>
<polygon points="433.2,441 439.4,441 436.3,445.7" fill="#9ECCB3"/>
<polygon points="436.3,447.6 439.5,452.5 433.1,452.5" fill="#383737"/>
<polygon points="441.02,441 447.22,441 444.12,445.7" fill="#9ECCB3"/>
<polygon points="444.12,447.6 447.32,452.5 440.92,452.5" fill="#383737"/>
<polygon points="448.84,441 455.04,441 451.94,445.7" fill="#9ECCB3"/>
<polygon points="451.94,447.6 455.14,452.5 448.74,452.5" fill="#383737"/>
<polygon points="456.66,441 462.86,441 459.76,445.7" fill="#9ECCB3"/>
<polygon points="459.76,447.6 462.96,452.5 456.56,452.5" fill="#383737"/>
<polygon points="464.48,441 470.68,441 467.58,445.7" fill="#9ECCB3"/>
<polygon points="467.58,447.6 470.78,452.5 464.38,452.5" fill="#383737"/>
<polygon points="472.3,441 478.5,441 475.4,445.7" fill="#9ECCB3"/>
<polygon points="475.4,447.6 478.6,452.5 472.2,452.5" fill="#383737"/>
<polygon points="480.12,441 486.32,441 483.22,445.7" fill="#9ECCB3"/>
<polygon points="483.22,447.6 486.42,452.5 480.02,452.5" fill="#383737"/>
<polygon points="487.94,441 494.14,441 491.04,445.7" fill="#9ECCB3"/>
<polygon points="491.04,447.6 494.24,452.5 487.84,452.5" fill="#383737"/>
<polygon points="495.76,441 501.96,441 498.86,445.7" fill="#9ECCB3"/>
<polygon points="498.86,447.6 502.06,452.5 495.66,452.5" fill="#383737"/>
<polygon points="503.58,441 509.78,441 506.68,445.7" fill="#9ECCB3"/>
<polygon points="506.68,447.6 509.88,452.5 503.48,452.5" fill="#383737"/>
<polygon points="511.4,441 517.6,441 514.5,445.7" fill="#9ECCB3"/>
<polygon points="514.5,447.6 517.7,452.5 511.3,452.5" fill="#383737"/>
<polygon points="519.22,441 525.42,441 522.32,445.7" fill="#9ECCB3"/>
<polygon points="522.32,447.6 525.52,452.5 519.12,452.5" fill="#383737"/>
<polygon points="527.04,441 533.24,441 530.14,445.7" fill="#9ECCB3"/>
<polygon points="530.14,447.6 533.34,452.5 526.94,452.5" fill="#383737"/>
<polygon points="534.86,441 541.06,441 537.96,445.7" fill="#9ECCB3"/>
<polygon points="537.96,447.6 541.16,452.5 534.76,452.5" fill="#383737"/>
<polygon points="542.68,441 548.88,441 545.78,445.7" fill="#9ECCB3"/>
<polygon points="545.78,447.6 548.98,452.5 542.58,452.5" fill="#383737"/>
<polygon points="550.5,441 556.7,441 553.6,445.7" fill="#9ECCB3"/>
<polygon points="553.6,447.6 556.8,452.5 550.4,452.5" fill="#383737"/>
<polygon points="558.32,441 564.52,441 561.42,445.7" fill="#9ECCB3"/>
<polygon points="561.42,447.6 564.62,452.5 558.22,452.5" fill="#383737"/>
<polygon points="566.14,441 572.34,441 569.24,445.7" fill="#9ECCB3"/>
<polygon points="569.24,447.6 572.44,452.5 566.04,452.5" fill="#383737"/>
<circle cx="315.09" cy="446.6" r="1.5" fill="#F3AB87"/>
<circle cx="322.91" cy="446.6" r="1.5" fill="#F3AB87"/>
<circle cx="330.73" cy="446.6" r="1.5" fill="#F3AB87"/>
<circle cx="338.55" cy="446.6" r="1.5" fill="#F3AB87"/>
<circle cx="346.37" cy="446.6" r="1.5" fill="#F3AB87"/>
<circle cx="354.19" cy="446.6" r="1.5" fill="#F3AB87"/>
<circle cx="362.01" cy="446.6" r="1.5" fill="#F3AB87"/>
<circle cx="369.83" cy="446.6" r="1.5" fill="#F3AB87"/>
<circle cx="377.65" cy="446.6" r="1.5" fill="#F3AB87"/>
<circle cx="385.47" cy="446.6" r="1.5" fill="#F3AB87"/>
<circle cx="393.29" cy="446.6" r="1.5" fill="#F3AB87"/>
<circle cx="401.11" cy="446.6" r="1.5" fill="#F3AB87"/>
<circle cx="408.93" cy="446.6" r="1.5" fill="#F3AB87"/>
<circle cx="416.75" cy="446.6" r="1.5" fill="#F3AB87"/>
<circle cx="424.57" cy="446.6" r="1.5" fill="#F3AB87"/>
<circle cx="432.39" cy="446.6" r="1.5" fill="#F3AB87"/>
<circle cx="440.21" cy="446.6" r="1.5" fill="#F3AB87"/>
<circle cx="448.03" cy="446.6" r="1.5" fill="#F3AB87"/>
<circle cx="455.85" cy="446.6" r="1.5" fill="#F3AB87"/>
<circle cx="463.67" cy="446.6" r="1.5" fill="#F3AB87"/>
<circle cx="471.49" cy="446.6" r="1.5" fill="#F3AB87"/>
<circle cx="479.31" cy="446.6" r="1.5" fill="#F3AB87"/>
<circle cx="487.13" cy="446.6" r="1.5" fill="#F3AB87"/>
<circle cx="494.95" cy="446.6" r="1.5" fill="#F3AB87"/>
<circle cx="502.77" cy="446.6" r="1.5" fill="#F3AB87"/>
<circle cx="510.59" cy="446.6" r="1.5" fill="#F3AB87"/>
<circle cx="518.41" cy="446.6" r="1.5" fill="#F3AB87"/>
<circle cx="526.23" cy="446.6" r="1.5" fill="#F3AB87"/>
<circle cx="534.05" cy="446.6" r="1.5" fill="#F3AB87"/>
<circle cx="541.87" cy="446.6" r="1.5" fill="#F3AB87"/>
<circle cx="549.69" cy="446.6" r="1.5" fill="#F3AB87"/>
<circle cx="557.51" cy="446.6" r="1.5" fill="#F3AB87"/>
<circle cx="565.33" cy="446.6" r="1.5" fill="#F3AB87"/>
<circle cx="573.15" cy="446.6" r="1.5" fill="#F3AB87"/>
</g>
<polygon points="315.6,487.7 330.6,487.7 325.1,479.7 321.1,479.7" fill="#9ECCB3"/><path d="M322.7,479.7 L319.1,472.3 M323.1,479.7 L323.1,472 M323.5,479.7 L327.1,472.7" stroke="#F3AB87" stroke-width="1.45" stroke-linecap="round"/>
<polyline points="329.7,481.5 334.7,486.4 339.7,481.5" fill="none" stroke="#383737" stroke-width="1.9" stroke-linecap="round" stroke-linejoin="round"/>
<polygon points="338.91,487.7 353.91,487.7 348.41,479.7 344.41,479.7" fill="#9ECCB3"/><path d="M346.01,479.7 L342.41,472.3 M346.41,479.7 L346.41,472 M346.81,479.7 L350.41,472.7" stroke="#F3AB87" stroke-width="1.45" stroke-linecap="round"/>
<polyline points="353.01,481.5 358.01,486.4 363.01,481.5" fill="none" stroke="#383737" stroke-width="1.9" stroke-linecap="round" stroke-linejoin="round"/>
<polygon points="362.22,487.7 377.22,487.7 371.72,479.7 367.72,479.7" fill="#9ECCB3"/><path d="M369.32,479.7 L365.72,472.3 M369.72,479.7 L369.72,472 M370.12,479.7 L373.72,472.7" stroke="#F3AB87" stroke-width="1.45" stroke-linecap="round"/>
<polyline points="376.32,481.5 381.32,486.4 386.32,481.5" fill="none" stroke="#383737" stroke-width="1.9" stroke-linecap="round" stroke-linejoin="round"/>
<polygon points="385.53,487.7 400.53,487.7 395.03,479.7 391.03,479.7" fill="#9ECCB3"/><path d="M392.63,479.7 L389.03,472.3 M393.03,479.7 L393.03,472 M393.43,479.7 L397.03,472.7" stroke="#F3AB87" stroke-width="1.45" stroke-linecap="round"/>
<polyline points="399.63,481.5 404.63,486.4 409.63,481.5" fill="none" stroke="#383737" stroke-width="1.9" stroke-linecap="round" stroke-linejoin="round"/>
<polygon points="408.84,487.7 423.84,487.7 418.34,479.7 414.34,479.7" fill="#9ECCB3"/><path d="M415.94,479.7 L412.34,472.3 M416.34,479.7 L416.34,472 M416.74,479.7 L420.34,472.7" stroke="#F3AB87" stroke-width="1.45" stroke-linecap="round"/>
<polyline points="422.94,481.5 427.94,486.4 432.94,481.5" fill="none" stroke="#383737" stroke-width="1.9" stroke-linecap="round" stroke-linejoin="round"/>
<polygon points="432.15,487.7 447.15,487.7 441.65,479.7 437.65,479.7" fill="#9ECCB3"/><path d="M439.25,479.7 L435.65,472.3 M439.65,479.7 L439.65,472 M440.05,479.7 L443.65,472.7" stroke="#F3AB87" stroke-width="1.45" stroke-linecap="round"/>
<polyline points="446.25,481.5 451.25,486.4 456.25,481.5" fill="none" stroke="#383737" stroke-width="1.9" stroke-linecap="round" stroke-linejoin="round"/>
<polygon points="455.46,487.7 470.46,487.7 464.96,479.7 460.96,479.7" fill="#9ECCB3"/><path d="M462.56,479.7 L458.96,472.3 M462.96,479.7 L462.96,472 M463.36,479.7 L466.96,472.7" stroke="#F3AB87" stroke-width="1.45" stroke-linecap="round"/>
<polyline points="469.56,481.5 474.56,486.4 479.56,481.5" fill="none" stroke="#383737" stroke-width="1.9" stroke-linecap="round" stroke-linejoin="round"/>
<polygon points="478.77,487.7 493.77,487.7 488.27,479.7 484.27,479.7" fill="#9ECCB3"/><path d="M485.87,479.7 L482.27,472.3 M486.27,479.7 L486.27,472 M486.67,479.7 L490.27,472.7" stroke="#F3AB87" stroke-width="1.45" stroke-linecap="round"/>
<polyline points="492.87,481.5 497.87,486.4 502.87,481.5" fill="none" stroke="#383737" stroke-width="1.9" stroke-linecap="round" stroke-linejoin="round"/>
<polygon points="502.08,487.7 517.08,487.7 511.58,479.7 507.58,479.7" fill="#9ECCB3"/><path d="M509.18,479.7 L505.58,472.3 M509.58,479.7 L509.58,472 M509.98,479.7 L513.58,472.7" stroke="#F3AB87" stroke-width="1.45" stroke-linecap="round"/>
<polyline points="516.18,481.5 521.18,486.4 526.18,481.5" fill="none" stroke="#383737" stroke-width="1.9" stroke-linecap="round" stroke-linejoin="round"/>
<polygon points="525.39,487.7 540.39,487.7 534.89,479.7 530.89,479.7" fill="#9ECCB3"/><path d="M532.49,479.7 L528.89,472.3 M532.89,479.7 L532.89,472 M533.29,479.7 L536.89,472.7" stroke="#F3AB87" stroke-width="1.45" stroke-linecap="round"/>
<polyline points="539.49,481.5 544.49,486.4 549.49,481.5" fill="none" stroke="#383737" stroke-width="1.9" stroke-linecap="round" stroke-linejoin="round"/>
<polygon points="548.7,487.7 563.7,487.7 558.2,479.7 554.2,479.7" fill="#9ECCB3"/><path d="M555.8,479.7 L552.2,472.3 M556.2,479.7 L556.2,472 M556.6,479.7 L560.2,472.7" stroke="#F3AB87" stroke-width="1.45" stroke-linecap="round"/>
<polyline points="562.8,481.5 567.8,486.4 572.8,481.5" fill="none" stroke="#383737" stroke-width="1.9" stroke-linecap="round" stroke-linejoin="round"/>
<polygon points="422.45,533.5 438.95,533.5 433.2,524.5 428.2,524.5" fill="#9ECCB3"/><path d="M430.3,524.5 L426.3,517.3 M430.7,524.5 L430.7,517 M431.1,524.5 L435.1,517.7" stroke="#F3AB87" stroke-width="1.6" stroke-linecap="round"/>
<polygon points="449.45,533.5 465.95,533.5 460.2,524.5 455.2,524.5" fill="#9ECCB3"/><path d="M457.3,524.5 L453.3,517.3 M457.7,524.5 L457.7,517 M458.1,524.5 L462.1,517.7" stroke="#F3AB87" stroke-width="1.6" stroke-linecap="round"/>
<g transform="translate(0,1073) scale(1,-1)">
<polygon points="422.45,533.5 438.95,533.5 433.2,524.5 428.2,524.5" fill="#9ECCB3"/><path d="M430.3,524.5 L426.3,517.3 M430.7,524.5 L430.7,517 M431.1,524.5 L435.1,517.7" stroke="#F3AB87" stroke-width="1.6" stroke-linecap="round"/>
<polygon points="449.45,533.5 465.95,533.5 460.2,524.5 455.2,524.5" fill="#9ECCB3"/><path d="M457.3,524.5 L453.3,517.3 M457.7,524.5 L457.7,517 M458.1,524.5 L462.1,517.7" stroke="#F3AB87" stroke-width="1.6" stroke-linecap="round"/>
</g>
<polygon points="424.5,534.4 427.5,538.6 421.5,538.6" fill="#383737"/>
<polygon points="431.2,534.4 434.2,538.6 428.2,538.6" fill="#383737"/>
<polygon points="437.9,534.4 440.9,538.6 434.9,538.6" fill="#383737"/>
<polygon points="444.6,534.4 447.6,538.6 441.6,538.6" fill="#F3AB87"/>
<polygon points="451.3,534.4 454.3,538.6 448.3,538.6" fill="#383737"/>
<polygon points="458,534.4 461,538.6 455,538.6" fill="#383737"/>
<polygon points="464.7,534.4 467.7,538.6 461.7,538.6" fill="#383737"/>
<polyline points="437,526 444,532 451,526" fill="none" stroke="#383737" stroke-width="2.2" stroke-linejoin="miter"/>
<polyline points="437,548.5 444,542 451,548.5" fill="none" stroke="#383737" stroke-width="2.2" stroke-linejoin="miter"/>
<polygon transform="translate(444,521) rotate(0)" points="0,-4 3.5,0 0,4 -3.5,0" fill="#F3AB87"/>
<circle cx="444" cy="521" r="1.2" fill="#383737"/>
<polygon transform="translate(444,552.5) rotate(0)" points="0,-4 3.5,0 0,4 -3.5,0" fill="#F3AB87"/>
<circle cx="444" cy="552.5" r="1.2" fill="#383737"/>
<ellipse cx="742.55" cy="148.8" rx="3" ry="2.7" transform="rotate(-180.6 742.55 148.8)" fill="#9ECCB3"/>
<ellipse cx="757.16" cy="149.83" rx="5" ry="3.7" transform="rotate(-171.37 757.16 149.83)" fill="#F3AB87"/>
<ellipse cx="771.41" cy="153.19" rx="3" ry="2.6" transform="rotate(-162.14 771.41 153.19)" fill="#383737"/>
<ellipse cx="784.94" cy="158.79" rx="3" ry="2.7" transform="rotate(-152.91 784.94 158.79)" fill="#9ECCB3"/>
<ellipse cx="797.4" cy="166.48" rx="5" ry="3.7" transform="rotate(-143.68 797.4 166.48)" fill="#F3AB87"/>
<ellipse cx="808.47" cy="176.08" rx="3" ry="2.6" transform="rotate(-134.45 808.47 176.08)" fill="#383737"/>
<ellipse cx="817.85" cy="187.32" rx="3" ry="2.7" transform="rotate(-125.22 817.85 187.32)" fill="#9ECCB3"/>
<ellipse cx="825.3" cy="199.93" rx="5" ry="3.7" transform="rotate(-115.98 825.3 199.93)" fill="#F3AB87"/>
<ellipse cx="830.64" cy="213.57" rx="3" ry="2.6" transform="rotate(-106.75 830.64 213.57)" fill="#383737"/>
<ellipse cx="833.72" cy="227.89" rx="3" ry="2.7" transform="rotate(-97.52 833.72 227.89)" fill="#9ECCB3"/>
<ellipse cx="834.46" cy="242.51" rx="5" ry="3.7" transform="rotate(-88.29 834.46 242.51)" fill="#F3AB87"/>
<ellipse cx="832.85" cy="257.07" rx="3" ry="2.6" transform="rotate(-79.06 832.85 257.07)" fill="#383737"/>
<ellipse cx="828.92" cy="271.18" rx="3" ry="2.7" transform="rotate(-69.83 828.92 271.18)" fill="#9ECCB3"/>
<ellipse cx="822.78" cy="284.47" rx="5" ry="3.7" transform="rotate(-60.6 822.78 284.47)" fill="#F3AB87"/>
<ellipse cx="814.59" cy="296.61" rx="3" ry="2.6" transform="rotate(-51.37 814.59 296.61)" fill="#383737"/>
<ellipse cx="804.55" cy="307.28" rx="3" ry="2.7" transform="rotate(-42.14 804.55 307.28)" fill="#9ECCB3"/>
<ellipse cx="792.94" cy="316.2" rx="5" ry="3.7" transform="rotate(-32.91 792.94 316.2)" fill="#F3AB87"/>
<ellipse cx="780.04" cy="323.14" rx="3" ry="2.6" transform="rotate(-23.68 780.04 323.14)" fill="#383737"/>
<ellipse cx="766.2" cy="327.92" rx="3" ry="2.7" transform="rotate(-14.45 766.2 327.92)" fill="#9ECCB3"/>
<ellipse cx="751.77" cy="330.42" rx="5" ry="3.7" transform="rotate(-5.22 751.77 330.42)" fill="#F3AB87"/>
<ellipse cx="737.13" cy="330.58" rx="3" ry="2.6" transform="rotate(4.02 737.13 330.58)" fill="#383737"/>
<ellipse cx="722.65" cy="328.38" rx="3" ry="2.7" transform="rotate(13.25 722.65 328.38)" fill="#9ECCB3"/>
<ellipse cx="708.71" cy="323.89" rx="5" ry="3.7" transform="rotate(22.48 708.71 323.89)" fill="#F3AB87"/>
<ellipse cx="695.67" cy="317.22" rx="3" ry="2.6" transform="rotate(31.71 695.67 317.22)" fill="#383737"/>
<ellipse cx="683.87" cy="308.54" rx="3" ry="2.7" transform="rotate(40.94 683.87 308.54)" fill="#9ECCB3"/>
<ellipse cx="673.62" cy="298.09" rx="5" ry="3.7" transform="rotate(50.17 673.62 298.09)" fill="#F3AB87"/>
<ellipse cx="665.17" cy="286.12" rx="3" ry="2.6" transform="rotate(59.4 665.17 286.12)" fill="#383737"/>
<ellipse cx="658.76" cy="272.96" rx="3" ry="2.7" transform="rotate(68.63 658.76 272.96)" fill="#9ECCB3"/>
<ellipse cx="654.53" cy="258.94" rx="5" ry="3.7" transform="rotate(77.86 654.53 258.94)" fill="#F3AB87"/>
<ellipse cx="652.62" cy="244.42" rx="3" ry="2.6" transform="rotate(87.09 652.62 244.42)" fill="#383737"/>
<ellipse cx="653.05" cy="229.78" rx="3" ry="2.7" transform="rotate(96.32 653.05 229.78)" fill="#9ECCB3"/>
<ellipse cx="655.83" cy="215.4" rx="5" ry="3.7" transform="rotate(105.55 655.83 215.4)" fill="#F3AB87"/>
<ellipse cx="660.88" cy="201.65" rx="3" ry="2.6" transform="rotate(114.78 660.88 201.65)" fill="#383737"/>
<ellipse cx="668.07" cy="188.89" rx="3" ry="2.7" transform="rotate(124.02 668.07 188.89)" fill="#9ECCB3"/>
<ellipse cx="677.21" cy="177.45" rx="5" ry="3.7" transform="rotate(133.25 677.21 177.45)" fill="#F3AB87"/>
<ellipse cx="688.07" cy="167.63" rx="3" ry="2.6" transform="rotate(142.48 688.07 167.63)" fill="#383737"/>
<ellipse cx="700.37" cy="159.67" rx="3" ry="2.7" transform="rotate(151.71 700.37 159.67)" fill="#9ECCB3"/>
<ellipse cx="713.78" cy="153.79" rx="5" ry="3.7" transform="rotate(160.94 713.78 153.79)" fill="#F3AB87"/>
<ellipse cx="727.96" cy="150.14" rx="3" ry="2.6" transform="rotate(170.17 727.96 150.14)" fill="#383737"/>
<polygon points="736.93,163.48 750.07,163.48 743.5,154.6" fill="#F3AB87"/>
<polygon points="737.4,168.16 749.6,168.16 743.5,177" fill="#9ECCB3"/>
<polygon points="752.94,163.78 765.8,166.52 761.21,156.46" fill="#F3AB87"/>
<polygon points="752.43,168.46 764.36,170.99 756.56,178.37" fill="#9ECCB3"/>
<polygon points="768.53,167.41 780.55,172.75 778.15,161.97" fill="#F3AB87"/>
<polygon points="767.07,171.87 778.21,176.83 769.04,182.43" fill="#9ECCB3"/>
<polygon points="783.04,174.19 793.68,181.92 793.58,170.87" fill="#F3AB87"/>
<polygon points="780.67,178.26 790.55,185.43 780.41,188.99" fill="#9ECCB3"/>
<polygon points="795.82,183.85 804.61,193.62 806.82,182.79" fill="#F3AB87"/>
<polygon points="792.66,187.33 800.82,196.4 790.17,197.78" fill="#9ECCB3"/>
<polygon points="806.31,195.95 812.88,207.34 817.29,197.2" fill="#F3AB87"/>
<polygon points="802.49,198.7 808.59,209.26 797.89,208.4" fill="#9ECCB3"/>
<polygon points="814.05,209.96 818.11,222.47 824.53,213.47" fill="#F3AB87"/>
<polygon points="809.75,211.86 813.52,223.46 803.23,220.39" fill="#9ECCB3"/>
<polygon points="818.71,225.28 820.09,238.36 828.23,230.89" fill="#F3AB87"/>
<polygon points="814.11,226.24 815.39,238.38 805.96,233.24" fill="#9ECCB3"/>
<polygon points="820.09,241.24 818.71,254.32 828.23,248.71" fill="#F3AB87"/>
<polygon points="815.39,241.22 814.11,253.36 805.96,246.36" fill="#9ECCB3"/>
<polygon points="818.11,257.13 814.05,269.64 824.53,266.13" fill="#F3AB87"/>
<polygon points="813.52,256.14 809.75,267.74 803.23,259.21" fill="#9ECCB3"/>
<polygon points="812.88,272.26 806.31,283.65 817.29,282.4" fill="#F3AB87"/>
<polygon points="808.59,270.34 802.49,280.9 797.89,271.2" fill="#9ECCB3"/>
<polygon points="804.61,285.98 795.82,295.75 806.82,296.81" fill="#F3AB87"/>
<polygon points="800.82,283.2 792.66,292.27 790.17,281.82" fill="#9ECCB3"/>
<polygon points="793.68,297.68 783.04,305.41 793.58,308.73" fill="#F3AB87"/>
<polygon points="790.55,294.17 780.67,301.34 780.41,290.61" fill="#9ECCB3"/>
<polygon points="780.55,306.85 768.53,312.19 778.15,317.63" fill="#F3AB87"/>
<polygon points="778.21,302.77 767.07,307.73 769.04,297.17" fill="#9ECCB3"/>
<polygon points="765.8,313.08 752.94,315.82 761.21,323.14" fill="#F3AB87"/>
<polygon points="764.36,308.61 752.43,311.14 756.56,301.23" fill="#9ECCB3"/>
<polygon points="750.07,316.12 736.93,316.12 743.5,325" fill="#F3AB87"/>
<polygon points="749.6,311.44 737.4,311.44 743.5,302.6" fill="#9ECCB3"/>
<polygon points="734.06,315.82 721.2,313.08 725.79,323.14" fill="#F3AB87"/>
<polygon points="734.57,311.14 722.64,308.61 730.44,301.23" fill="#9ECCB3"/>
<polygon points="718.47,312.19 706.45,306.85 708.85,317.63" fill="#F3AB87"/>
<polygon points="719.93,307.73 708.79,302.77 717.96,297.17" fill="#9ECCB3"/>
<polygon points="703.96,305.41 693.32,297.68 693.42,308.73" fill="#F3AB87"/>
<polygon points="706.33,301.34 696.45,294.17 706.59,290.61" fill="#9ECCB3"/>
<polygon points="691.18,295.75 682.39,285.98 680.18,296.81" fill="#F3AB87"/>
<polygon points="694.34,292.27 686.18,283.2 696.83,281.82" fill="#9ECCB3"/>
<polygon points="680.69,283.65 674.12,272.26 669.71,282.4" fill="#F3AB87"/>
<polygon points="684.51,280.9 678.41,270.34 689.11,271.2" fill="#9ECCB3"/>
<polygon points="672.95,269.64 668.89,257.13 662.47,266.13" fill="#F3AB87"/>
<polygon points="677.25,267.74 673.48,256.14 683.77,259.21" fill="#9ECCB3"/>
<polygon points="668.29,254.32 666.91,241.24 658.77,248.71" fill="#F3AB87"/>
<polygon points="672.89,253.36 671.61,241.22 681.04,246.36" fill="#9ECCB3"/>
<polygon points="666.91,238.36 668.29,225.28 658.77,230.89" fill="#F3AB87"/>
<polygon points="671.61,238.38 672.89,226.24 681.04,233.24" fill="#9ECCB3"/>
<polygon points="668.89,222.47 672.95,209.96 662.47,213.47" fill="#F3AB87"/>
<polygon points="673.48,223.46 677.25,211.86 683.77,220.39" fill="#9ECCB3"/>
<polygon points="674.12,207.34 680.69,195.95 669.71,197.2" fill="#F3AB87"/>
<polygon points="678.41,209.26 684.51,198.7 689.11,208.4" fill="#9ECCB3"/>
<polygon points="682.39,193.62 691.18,183.85 680.18,182.79" fill="#F3AB87"/>
<polygon points="686.18,196.4 694.34,187.33 696.83,197.78" fill="#9ECCB3"/>
<polygon points="693.32,181.92 703.96,174.19 693.42,170.87" fill="#F3AB87"/>
<polygon points="696.45,185.43 706.33,178.26 706.59,188.99" fill="#9ECCB3"/>
<polygon points="706.45,172.75 718.47,167.41 708.85,161.97" fill="#F3AB87"/>
<polygon points="708.79,176.83 719.93,171.87 717.96,182.43" fill="#9ECCB3"/>
<polygon points="721.2,166.52 734.06,163.78 725.79,156.46" fill="#F3AB87"/>
<polygon points="722.64,170.99 734.57,168.46 730.44,178.37" fill="#9ECCB3"/>
<circle cx="743.5" cy="239.8" r="74.25" fill="none" stroke="#fff" stroke-width="4.6"/>
<g transform="translate(798.19,232.31) rotate(-97.8)"><path d="M-0.7,-5.85 A6.3,5.85 0 0 0 -0.7,5.85 Z" fill="#F3AB87"/><path d="M0.7,-5.85 A6.3,5.85 0 0 1 0.7,5.85 Z" fill="#9ECCB3"/></g>
<g transform="translate(797.24,249.47) rotate(-79.8)"><polyline points="-4.4,-2.6 0,2.8 4.4,-2.6" fill="none" stroke="#383737" stroke-width="1.7" stroke-linecap="round" stroke-linejoin="round"/></g>
<g transform="translate(792.15,265.88) rotate(-61.8)"><path d="M-0.7,-5.85 A6.3,5.85 0 0 0 -0.7,5.85 Z" fill="#F3AB87"/><path d="M0.7,-5.85 A6.3,5.85 0 0 1 0.7,5.85 Z" fill="#9ECCB3"/></g>
<g transform="translate(781.29,279.21) rotate(-43.8)"><polyline points="-4.4,-2.6 0,2.8 4.4,-2.6" fill="none" stroke="#383737" stroke-width="1.7" stroke-linecap="round" stroke-linejoin="round"/></g>
<g transform="translate(767.52,289.5) rotate(-25.8)"><path d="M-0.7,-5.85 A6.3,5.85 0 0 0 -0.7,5.85 Z" fill="#F3AB87"/><path d="M0.7,-5.85 A6.3,5.85 0 0 1 0.7,5.85 Z" fill="#9ECCB3"/></g>
<g transform="translate(750.91,293.89) rotate(-7.8)"><polyline points="-4.4,-2.6 0,2.8 4.4,-2.6" fill="none" stroke="#383737" stroke-width="1.7" stroke-linecap="round" stroke-linejoin="round"/></g>
<g transform="translate(733.72,294.13) rotate(10.2)"><path d="M-0.7,-5.85 A6.3,5.85 0 0 0 -0.7,5.85 Z" fill="#F3AB87"/><path d="M0.7,-5.85 A6.3,5.85 0 0 1 0.7,5.85 Z" fill="#9ECCB3"/></g>
<g transform="translate(717.7,287.92) rotate(28.2)"><polyline points="-4.4,-2.6 0,2.8 4.4,-2.6" fill="none" stroke="#383737" stroke-width="1.7" stroke-linecap="round" stroke-linejoin="round"/></g>
<g transform="translate(703.66,278.01) rotate(46.2)"><path d="M-0.7,-5.85 A6.3,5.85 0 0 0 -0.7,5.85 Z" fill="#F3AB87"/><path d="M0.7,-5.85 A6.3,5.85 0 0 1 0.7,5.85 Z" fill="#9ECCB3"/></g>
<g transform="translate(694.34,263.56) rotate(64.2)"><polyline points="-4.4,-2.6 0,2.8 4.4,-2.6" fill="none" stroke="#383737" stroke-width="1.7" stroke-linecap="round" stroke-linejoin="round"/></g>
<g transform="translate(688.81,247.29) rotate(82.2)"><path d="M-0.7,-5.85 A6.3,5.85 0 0 0 -0.7,5.85 Z" fill="#F3AB87"/><path d="M0.7,-5.85 A6.3,5.85 0 0 1 0.7,5.85 Z" fill="#9ECCB3"/></g>
<g transform="translate(689.76,230.13) rotate(100.2)"><polyline points="-4.4,-2.6 0,2.8 4.4,-2.6" fill="none" stroke="#383737" stroke-width="1.7" stroke-linecap="round" stroke-linejoin="round"/></g>
<g transform="translate(694.85,213.72) rotate(118.2)"><path d="M-0.7,-5.85 A6.3,5.85 0 0 0 -0.7,5.85 Z" fill="#F3AB87"/><path d="M0.7,-5.85 A6.3,5.85 0 0 1 0.7,5.85 Z" fill="#9ECCB3"/></g>
<g transform="translate(705.71,200.39) rotate(136.2)"><polyline points="-4.4,-2.6 0,2.8 4.4,-2.6" fill="none" stroke="#383737" stroke-width="1.7" stroke-linecap="round" stroke-linejoin="round"/></g>
<g transform="translate(719.48,190.1) rotate(154.2)"><path d="M-0.7,-5.85 A6.3,5.85 0 0 0 -0.7,5.85 Z" fill="#F3AB87"/><path d="M0.7,-5.85 A6.3,5.85 0 0 1 0.7,5.85 Z" fill="#9ECCB3"/></g>
<g transform="translate(736.09,185.71) rotate(172.2)"><polyline points="-4.4,-2.6 0,2.8 4.4,-2.6" fill="none" stroke="#383737" stroke-width="1.7" stroke-linecap="round" stroke-linejoin="round"/></g>
<g transform="translate(753.28,185.47) rotate(190.2)"><path d="M-0.7,-5.85 A6.3,5.85 0 0 0 -0.7,5.85 Z" fill="#F3AB87"/><path d="M0.7,-5.85 A6.3,5.85 0 0 1 0.7,5.85 Z" fill="#9ECCB3"/></g>
<g transform="translate(769.3,191.68) rotate(208.2)"><polyline points="-4.4,-2.6 0,2.8 4.4,-2.6" fill="none" stroke="#383737" stroke-width="1.7" stroke-linecap="round" stroke-linejoin="round"/></g>
<g transform="translate(783.34,201.59) rotate(226.2)"><path d="M-0.7,-5.85 A6.3,5.85 0 0 0 -0.7,5.85 Z" fill="#F3AB87"/><path d="M0.7,-5.85 A6.3,5.85 0 0 1 0.7,5.85 Z" fill="#9ECCB3"/></g>
<g transform="translate(792.66,216.04) rotate(244.2)"><polyline points="-4.4,-2.6 0,2.8 4.4,-2.6" fill="none" stroke="#383737" stroke-width="1.7" stroke-linecap="round" stroke-linejoin="round"/></g>
<path d="M742.03,199.13 L749.99,199.62 M757.71,201.66 L764.87,205.16 M771.22,210 L776.5,215.97 M780.52,222.88 L783.1,230.42 M784.17,238.33 L783.68,246.29 M781.64,254.01 L778.14,261.17 M773.3,267.52 L767.33,272.8 M760.42,276.82 L752.88,279.4 M744.97,280.47 L737.01,279.98 M729.29,277.94 L722.13,274.44 M715.78,269.6 L710.5,263.63 M706.48,256.72 L703.9,249.18 M702.83,241.27 L703.32,233.31 M705.36,225.59 L708.86,218.43 M713.7,212.08 L719.67,206.8 M726.58,202.78 L734.12,200.2 " fill="none" stroke="#9ECCB3" stroke-width="2.4"/>
<g transform="translate(738.05,199.47) rotate(-187.7)"><polygon points="-5.3,0 -1.8,-4.3 1.8,-4.3 5.3,0 1.8,4.3 -1.8,4.3" fill="#9ECCB3" stroke="#9ECCB3" stroke-width="0.4" stroke-linejoin="round"/><ellipse cx="0" cy="0" rx="3.05" ry="2.85" fill="#fff"/><circle cx="0" cy="0" r="1.35" fill="#e99d8f"/><polyline points="-2.1,-6.5 0,-3.9 2.1,-6.5" fill="none" stroke="#9ECCB3" stroke-width="1.4"/><polyline points="-2.1,6.5 0,3.9 2.1,6.5" fill="none" stroke="#9ECCB3" stroke-width="1.4"/></g>
<g transform="translate(753.9,200.45) rotate(-165.2)"><polygon points="-5.3,0 -1.8,-4.3 1.8,-4.3 5.3,0 1.8,4.3 -1.8,4.3" fill="#9ECCB3" stroke="#9ECCB3" stroke-width="0.4" stroke-linejoin="round"/><ellipse cx="0" cy="0" rx="3.05" ry="2.85" fill="#fff"/><circle cx="0" cy="0" r="1.35" fill="#e99d8f"/><polyline points="-2.1,-6.5 0,-3.9 2.1,-6.5" fill="none" stroke="#9ECCB3" stroke-width="1.4"/><polyline points="-2.1,6.5 0,3.9 2.1,6.5" fill="none" stroke="#9ECCB3" stroke-width="1.4"/></g>
<g transform="translate(768.16,207.42) rotate(-142.7)"><polygon points="-5.3,0 -1.8,-4.3 1.8,-4.3 5.3,0 1.8,4.3 -1.8,4.3" fill="#9ECCB3" stroke="#9ECCB3" stroke-width="0.4" stroke-linejoin="round"/><ellipse cx="0" cy="0" rx="3.05" ry="2.85" fill="#fff"/><circle cx="0" cy="0" r="1.35" fill="#e99d8f"/><polyline points="-2.1,-6.5 0,-3.9 2.1,-6.5" fill="none" stroke="#9ECCB3" stroke-width="1.4"/><polyline points="-2.1,6.5 0,3.9 2.1,6.5" fill="none" stroke="#9ECCB3" stroke-width="1.4"/></g>
<g transform="translate(778.68,219.33) rotate(-120.2)"><polygon points="-5.3,0 -1.8,-4.3 1.8,-4.3 5.3,0 1.8,4.3 -1.8,4.3" fill="#9ECCB3" stroke="#9ECCB3" stroke-width="0.4" stroke-linejoin="round"/><ellipse cx="0" cy="0" rx="3.05" ry="2.85" fill="#fff"/><circle cx="0" cy="0" r="1.35" fill="#e99d8f"/><polyline points="-2.1,-6.5 0,-3.9 2.1,-6.5" fill="none" stroke="#9ECCB3" stroke-width="1.4"/><polyline points="-2.1,6.5 0,3.9 2.1,6.5" fill="none" stroke="#9ECCB3" stroke-width="1.4"/></g>
<g transform="translate(783.83,234.35) rotate(-97.7)"><polygon points="-5.3,0 -1.8,-4.3 1.8,-4.3 5.3,0 1.8,4.3 -1.8,4.3" fill="#9ECCB3" stroke="#9ECCB3" stroke-width="0.4" stroke-linejoin="round"/><ellipse cx="0" cy="0" rx="3.05" ry="2.85" fill="#fff"/><circle cx="0" cy="0" r="1.35" fill="#e99d8f"/><polyline points="-2.1,-6.5 0,-3.9 2.1,-6.5" fill="none" stroke="#9ECCB3" stroke-width="1.4"/><polyline points="-2.1,6.5 0,3.9 2.1,6.5" fill="none" stroke="#9ECCB3" stroke-width="1.4"/></g>
<g transform="translate(782.85,250.2) rotate(-75.2)"><polygon points="-5.3,0 -1.8,-4.3 1.8,-4.3 5.3,0 1.8,4.3 -1.8,4.3" fill="#9ECCB3" stroke="#9ECCB3" stroke-width="0.4" stroke-linejoin="round"/><ellipse cx="0" cy="0" rx="3.05" ry="2.85" fill="#fff"/><circle cx="0" cy="0" r="1.35" fill="#e99d8f"/><polyline points="-2.1,-6.5 0,-3.9 2.1,-6.5" fill="none" stroke="#9ECCB3" stroke-width="1.4"/><polyline points="-2.1,6.5 0,3.9 2.1,6.5" fill="none" stroke="#9ECCB3" stroke-width="1.4"/></g>
<g transform="translate(775.88,264.46) rotate(-52.7)"><polygon points="-5.3,0 -1.8,-4.3 1.8,-4.3 5.3,0 1.8,4.3 -1.8,4.3" fill="#9ECCB3" stroke="#9ECCB3" stroke-width="0.4" stroke-linejoin="round"/><ellipse cx="0" cy="0" rx="3.05" ry="2.85" fill="#fff"/><circle cx="0" cy="0" r="1.35" fill="#e99d8f"/><polyline points="-2.1,-6.5 0,-3.9 2.1,-6.5" fill="none" stroke="#9ECCB3" stroke-width="1.4"/><polyline points="-2.1,6.5 0,3.9 2.1,6.5" fill="none" stroke="#9ECCB3" stroke-width="1.4"/></g>
<g transform="translate(763.97,274.98) rotate(-30.2)"><polygon points="-5.3,0 -1.8,-4.3 1.8,-4.3 5.3,0 1.8,4.3 -1.8,4.3" fill="#9ECCB3" stroke="#9ECCB3" stroke-width="0.4" stroke-linejoin="round"/><ellipse cx="0" cy="0" rx="3.05" ry="2.85" fill="#fff"/><circle cx="0" cy="0" r="1.35" fill="#e99d8f"/><polyline points="-2.1,-6.5 0,-3.9 2.1,-6.5" fill="none" stroke="#9ECCB3" stroke-width="1.4"/><polyline points="-2.1,6.5 0,3.9 2.1,6.5" fill="none" stroke="#9ECCB3" stroke-width="1.4"/></g>
<g transform="translate(748.95,280.13) rotate(-7.7)"><polygon points="-5.3,0 -1.8,-4.3 1.8,-4.3 5.3,0 1.8,4.3 -1.8,4.3" fill="#9ECCB3" stroke="#9ECCB3" stroke-width="0.4" stroke-linejoin="round"/><ellipse cx="0" cy="0" rx="3.05" ry="2.85" fill="#fff"/><circle cx="0" cy="0" r="1.35" fill="#e99d8f"/><polyline points="-2.1,-6.5 0,-3.9 2.1,-6.5" fill="none" stroke="#9ECCB3" stroke-width="1.4"/><polyline points="-2.1,6.5 0,3.9 2.1,6.5" fill="none" stroke="#9ECCB3" stroke-width="1.4"/></g>
<g transform="translate(733.1,279.15) rotate(14.8)"><polygon points="-5.3,0 -1.8,-4.3 1.8,-4.3 5.3,0 1.8,4.3 -1.8,4.3" fill="#9ECCB3" stroke="#9ECCB3" stroke-width="0.4" stroke-linejoin="round"/><ellipse cx="0" cy="0" rx="3.05" ry="2.85" fill="#fff"/><circle cx="0" cy="0" r="1.35" fill="#e99d8f"/><polyline points="-2.1,-6.5 0,-3.9 2.1,-6.5" fill="none" stroke="#9ECCB3" stroke-width="1.4"/><polyline points="-2.1,6.5 0,3.9 2.1,6.5" fill="none" stroke="#9ECCB3" stroke-width="1.4"/></g>
<g transform="translate(718.84,272.18) rotate(37.3)"><polygon points="-5.3,0 -1.8,-4.3 1.8,-4.3 5.3,0 1.8,4.3 -1.8,4.3" fill="#9ECCB3" stroke="#9ECCB3" stroke-width="0.4" stroke-linejoin="round"/><ellipse cx="0" cy="0" rx="3.05" ry="2.85" fill="#fff"/><circle cx="0" cy="0" r="1.35" fill="#e99d8f"/><polyline points="-2.1,-6.5 0,-3.9 2.1,-6.5" fill="none" stroke="#9ECCB3" stroke-width="1.4"/><polyline points="-2.1,6.5 0,3.9 2.1,6.5" fill="none" stroke="#9ECCB3" stroke-width="1.4"/></g>
<g transform="translate(708.32,260.27) rotate(59.8)"><polygon points="-5.3,0 -1.8,-4.3 1.8,-4.3 5.3,0 1.8,4.3 -1.8,4.3" fill="#9ECCB3" stroke="#9ECCB3" stroke-width="0.4" stroke-linejoin="round"/><ellipse cx="0" cy="0" rx="3.05" ry="2.85" fill="#fff"/><circle cx="0" cy="0" r="1.35" fill="#e99d8f"/><polyline points="-2.1,-6.5 0,-3.9 2.1,-6.5" fill="none" stroke="#9ECCB3" stroke-width="1.4"/><polyline points="-2.1,6.5 0,3.9 2.1,6.5" fill="none" stroke="#9ECCB3" stroke-width="1.4"/></g>
<g transform="translate(703.17,245.25) rotate(82.3)"><polygon points="-5.3,0 -1.8,-4.3 1.8,-4.3 5.3,0 1.8,4.3 -1.8,4.3" fill="#9ECCB3" stroke="#9ECCB3" stroke-width="0.4" stroke-linejoin="round"/><ellipse cx="0" cy="0" rx="3.05" ry="2.85" fill="#fff"/><circle cx="0" cy="0" r="1.35" fill="#e99d8f"/><polyline points="-2.1,-6.5 0,-3.9 2.1,-6.5" fill="none" stroke="#9ECCB3" stroke-width="1.4"/><polyline points="-2.1,6.5 0,3.9 2.1,6.5" fill="none" stroke="#9ECCB3" stroke-width="1.4"/></g>
<g transform="translate(704.15,229.4) rotate(104.8)"><polygon points="-5.3,0 -1.8,-4.3 1.8,-4.3 5.3,0 1.8,4.3 -1.8,4.3" fill="#9ECCB3" stroke="#9ECCB3" stroke-width="0.4" stroke-linejoin="round"/><ellipse cx="0" cy="0" rx="3.05" ry="2.85" fill="#fff"/><circle cx="0" cy="0" r="1.35" fill="#e99d8f"/><polyline points="-2.1,-6.5 0,-3.9 2.1,-6.5" fill="none" stroke="#9ECCB3" stroke-width="1.4"/><polyline points="-2.1,6.5 0,3.9 2.1,6.5" fill="none" stroke="#9ECCB3" stroke-width="1.4"/></g>
<g transform="translate(711.12,215.14) rotate(127.3)"><polygon points="-5.3,0 -1.8,-4.3 1.8,-4.3 5.3,0 1.8,4.3 -1.8,4.3" fill="#9ECCB3" stroke="#9ECCB3" stroke-width="0.4" stroke-linejoin="round"/><ellipse cx="0" cy="0" rx="3.05" ry="2.85" fill="#fff"/><circle cx="0" cy="0" r="1.35" fill="#e99d8f"/><polyline points="-2.1,-6.5 0,-3.9 2.1,-6.5" fill="none" stroke="#9ECCB3" stroke-width="1.4"/><polyline points="-2.1,6.5 0,3.9 2.1,6.5" fill="none" stroke="#9ECCB3" stroke-width="1.4"/></g>
<g transform="translate(723.03,204.62) rotate(149.8)"><polygon points="-5.3,0 -1.8,-4.3 1.8,-4.3 5.3,0 1.8,4.3 -1.8,4.3" fill="#9ECCB3" stroke="#9ECCB3" stroke-width="0.4" stroke-linejoin="round"/><ellipse cx="0" cy="0" rx="3.05" ry="2.85" fill="#fff"/><circle cx="0" cy="0" r="1.35" fill="#e99d8f"/><polyline points="-2.1,-6.5 0,-3.9 2.1,-6.5" fill="none" stroke="#9ECCB3" stroke-width="1.4"/><polyline points="-2.1,6.5 0,3.9 2.1,6.5" fill="none" stroke="#9ECCB3" stroke-width="1.4"/></g>
<g transform="translate(740.58,213.36) rotate(-186.3)"><path d="M-2.9,2.5 L-2.6,-0.4 C-2.3,-3.4 2.3,-3.4 2.6,-0.4 L2.9,2.5 Z" fill="#9ECCB3"/></g>
<g transform="translate(747.83,211.53) rotate(-171.3)"><polyline points="-2.7,-2.4 0,2.4 2.7,-2.4" fill="none" stroke="#eeae9c" stroke-width="1.2" stroke-linecap="round" stroke-linejoin="round"/></g>
<circle cx="747.13" cy="216.08" r="1.1" fill="#383737"/>
<g transform="translate(754.19,215.44) rotate(-156.3)"><path d="M-2.9,2.5 L-2.6,-0.4 C-2.3,-3.4 2.3,-3.4 2.6,-0.4 L2.9,2.5 Z" fill="#9ECCB3"/></g>
<g transform="translate(761.38,217.48) rotate(-141.3)"><polyline points="-2.7,-2.4 0,2.4 2.7,-2.4" fill="none" stroke="#eeae9c" stroke-width="1.2" stroke-linecap="round" stroke-linejoin="round"/></g>
<circle cx="758.51" cy="221.07" r="1.1" fill="#383737"/>
<g transform="translate(764.94,224.05) rotate(-126.3)"><path d="M-2.9,2.5 L-2.6,-0.4 C-2.3,-3.4 2.3,-3.4 2.6,-0.4 L2.9,2.5 Z" fill="#9ECCB3"/></g>
<g transform="translate(770.15,229.41) rotate(-111.3)"><polyline points="-2.7,-2.4 0,2.4 2.7,-2.4" fill="none" stroke="#eeae9c" stroke-width="1.2" stroke-linecap="round" stroke-linejoin="round"/></g>
<circle cx="765.86" cy="231.08" r="1.1" fill="#383737"/>
<g transform="translate(769.94,236.88) rotate(-96.3)"><path d="M-2.9,2.5 L-2.6,-0.4 C-2.3,-3.4 2.3,-3.4 2.6,-0.4 L2.9,2.5 Z" fill="#9ECCB3"/></g>
<g transform="translate(771.77,244.13) rotate(-81.3)"><polyline points="-2.7,-2.4 0,2.4 2.7,-2.4" fill="none" stroke="#eeae9c" stroke-width="1.2" stroke-linecap="round" stroke-linejoin="round"/></g>
<circle cx="767.22" cy="243.43" r="1.1" fill="#383737"/>
<g transform="translate(767.86,250.49) rotate(-66.3)"><path d="M-2.9,2.5 L-2.6,-0.4 C-2.3,-3.4 2.3,-3.4 2.6,-0.4 L2.9,2.5 Z" fill="#9ECCB3"/></g>
<g transform="translate(765.82,257.68) rotate(-51.3)"><polyline points="-2.7,-2.4 0,2.4 2.7,-2.4" fill="none" stroke="#eeae9c" stroke-width="1.2" stroke-linecap="round" stroke-linejoin="round"/></g>
<circle cx="762.23" cy="254.81" r="1.1" fill="#383737"/>
<g transform="translate(759.25,261.24) rotate(-36.3)"><path d="M-2.9,2.5 L-2.6,-0.4 C-2.3,-3.4 2.3,-3.4 2.6,-0.4 L2.9,2.5 Z" fill="#9ECCB3"/></g>
<g transform="translate(753.89,266.45) rotate(-21.3)"><polyline points="-2.7,-2.4 0,2.4 2.7,-2.4" fill="none" stroke="#eeae9c" stroke-width="1.2" stroke-linecap="round" stroke-linejoin="round"/></g>
<circle cx="752.22" cy="262.16" r="1.1" fill="#383737"/>
<g transform="translate(746.42,266.24) rotate(-6.3)"><path d="M-2.9,2.5 L-2.6,-0.4 C-2.3,-3.4 2.3,-3.4 2.6,-0.4 L2.9,2.5 Z" fill="#9ECCB3"/></g>
<g transform="translate(739.17,268.07) rotate(8.7)"><polyline points="-2.7,-2.4 0,2.4 2.7,-2.4" fill="none" stroke="#eeae9c" stroke-width="1.2" stroke-linecap="round" stroke-linejoin="round"/></g>
<circle cx="739.87" cy="263.52" r="1.1" fill="#383737"/>
<g transform="translate(732.81,264.16) rotate(23.7)"><path d="M-2.9,2.5 L-2.6,-0.4 C-2.3,-3.4 2.3,-3.4 2.6,-0.4 L2.9,2.5 Z" fill="#9ECCB3"/></g>
<g transform="translate(725.62,262.12) rotate(38.7)"><polyline points="-2.7,-2.4 0,2.4 2.7,-2.4" fill="none" stroke="#eeae9c" stroke-width="1.2" stroke-linecap="round" stroke-linejoin="round"/></g>
<circle cx="728.49" cy="258.53" r="1.1" fill="#383737"/>
<g transform="translate(722.06,255.55) rotate(53.7)"><path d="M-2.9,2.5 L-2.6,-0.4 C-2.3,-3.4 2.3,-3.4 2.6,-0.4 L2.9,2.5 Z" fill="#9ECCB3"/></g>
<g transform="translate(716.85,250.19) rotate(68.7)"><polyline points="-2.7,-2.4 0,2.4 2.7,-2.4" fill="none" stroke="#eeae9c" stroke-width="1.2" stroke-linecap="round" stroke-linejoin="round"/></g>
<circle cx="721.14" cy="248.52" r="1.1" fill="#383737"/>
<g transform="translate(717.06,242.72) rotate(83.7)"><path d="M-2.9,2.5 L-2.6,-0.4 C-2.3,-3.4 2.3,-3.4 2.6,-0.4 L2.9,2.5 Z" fill="#9ECCB3"/></g>
<g transform="translate(715.23,235.47) rotate(98.7)"><polyline points="-2.7,-2.4 0,2.4 2.7,-2.4" fill="none" stroke="#eeae9c" stroke-width="1.2" stroke-linecap="round" stroke-linejoin="round"/></g>
<circle cx="719.78" cy="236.17" r="1.1" fill="#383737"/>
<g transform="translate(719.14,229.11) rotate(113.7)"><path d="M-2.9,2.5 L-2.6,-0.4 C-2.3,-3.4 2.3,-3.4 2.6,-0.4 L2.9,2.5 Z" fill="#9ECCB3"/></g>
<g transform="translate(721.18,221.92) rotate(128.7)"><polyline points="-2.7,-2.4 0,2.4 2.7,-2.4" fill="none" stroke="#eeae9c" stroke-width="1.2" stroke-linecap="round" stroke-linejoin="round"/></g>
<circle cx="724.77" cy="224.79" r="1.1" fill="#383737"/>
<g transform="translate(727.75,218.36) rotate(143.7)"><path d="M-2.9,2.5 L-2.6,-0.4 C-2.3,-3.4 2.3,-3.4 2.6,-0.4 L2.9,2.5 Z" fill="#9ECCB3"/></g>
<g transform="translate(733.11,213.15) rotate(158.7)"><polyline points="-2.7,-2.4 0,2.4 2.7,-2.4" fill="none" stroke="#eeae9c" stroke-width="1.2" stroke-linecap="round" stroke-linejoin="round"/></g>
<circle cx="734.78" cy="217.44" r="1.1" fill="#383737"/>
<circle cx="743.91" cy="224.21" r="1.1" fill="#f1b9a6"/>
<circle cx="748.29" cy="224.95" r="0.85" fill="#9fb3ab"/>
<circle cx="752.27" cy="226.9" r="1.1" fill="#f1b9a6"/>
<circle cx="755.55" cy="229.9" r="0.85" fill="#9fb3ab"/>
<circle cx="757.86" cy="233.69" r="1.1" fill="#f1b9a6"/>
<circle cx="758.99" cy="237.98" r="0.85" fill="#9fb3ab"/>
<circle cx="758.88" cy="242.42" r="1.1" fill="#f1b9a6"/>
<circle cx="757.52" cy="246.65" r="0.85" fill="#9fb3ab"/>
<circle cx="755.02" cy="250.32" r="1.1" fill="#f1b9a6"/>
<circle cx="751.59" cy="253.14" r="0.85" fill="#9fb3ab"/>
<circle cx="747.5" cy="254.88" r="1.1" fill="#f1b9a6"/>
<circle cx="743.09" cy="255.39" r="0.85" fill="#9fb3ab"/>
<circle cx="738.71" cy="254.65" r="1.1" fill="#f1b9a6"/>
<circle cx="734.73" cy="252.7" r="0.85" fill="#9fb3ab"/>
<circle cx="731.45" cy="249.7" r="1.1" fill="#f1b9a6"/>
<circle cx="729.14" cy="245.91" r="0.85" fill="#9fb3ab"/>
<circle cx="728.01" cy="241.62" r="1.1" fill="#f1b9a6"/>
<circle cx="728.12" cy="237.18" r="0.85" fill="#9fb3ab"/>
<circle cx="729.48" cy="232.95" r="1.1" fill="#f1b9a6"/>
<circle cx="731.98" cy="229.28" r="0.85" fill="#9fb3ab"/>
<circle cx="735.41" cy="226.46" r="1.1" fill="#f1b9a6"/>
<circle cx="739.5" cy="224.72" r="0.85" fill="#9fb3ab"/>
<polygon transform="translate(757.77,368.55) rotate(-178.2)" points="0,-3.15 2.75,0 0,3.15 -2.75,0" fill="#F3AB87"/>
<g transform="translate(768.33,369.47) rotate(-171.77)"><path d="M-7.07,-7.07 L7.07,7.07 M7.07,-7.07 L-7.07,7.07" stroke="#9ECCB3" stroke-width="1.5" stroke-linecap="butt"/><rect x="-2.2" y="-2.2" width="4.4" height="4.4" rx="1.7" fill="#333836"/></g>
<polygon transform="translate(778.71,371.58) rotate(-165.34)" points="0,-3.15 2.75,0 0,3.15 -2.75,0" fill="#F3AB87"/>
<g transform="translate(788.8,374.83) rotate(-158.91)"><path d="M-7.07,-7.07 L7.07,7.07 M7.07,-7.07 L-7.07,7.07" stroke="#9ECCB3" stroke-width="1.5" stroke-linecap="butt"/><rect x="-2.2" y="-2.2" width="4.4" height="4.4" rx="1.7" fill="#333836"/></g>
<polygon transform="translate(798.46,379.19) rotate(-152.49)" points="0,-3.15 2.75,0 0,3.15 -2.75,0" fill="#F3AB87"/>
<g transform="translate(807.57,384.6) rotate(-146.06)"><path d="M-7.07,-7.07 L7.07,7.07 M7.07,-7.07 L-7.07,7.07" stroke="#9ECCB3" stroke-width="1.5" stroke-linecap="butt"/><rect x="-2.2" y="-2.2" width="4.4" height="4.4" rx="1.7" fill="#333836"/></g>
<polygon transform="translate(816.01,391) rotate(-139.63)" points="0,-3.15 2.75,0 0,3.15 -2.75,0" fill="#F3AB87"/>
<g transform="translate(823.69,398.31) rotate(-133.2)"><path d="M-7.07,-7.07 L7.07,7.07 M7.07,-7.07 L-7.07,7.07" stroke="#9ECCB3" stroke-width="1.5" stroke-linecap="butt"/><rect x="-2.2" y="-2.2" width="4.4" height="4.4" rx="1.7" fill="#333836"/></g>
<polygon transform="translate(830.5,406.43) rotate(-126.77)" points="0,-3.15 2.75,0 0,3.15 -2.75,0" fill="#F3AB87"/>
<g transform="translate(836.36,415.26) rotate(-120.34)"><path d="M-7.07,-7.07 L7.07,7.07 M7.07,-7.07 L-7.07,7.07" stroke="#9ECCB3" stroke-width="1.5" stroke-linecap="butt"/><rect x="-2.2" y="-2.2" width="4.4" height="4.4" rx="1.7" fill="#333836"/></g>
<polygon transform="translate(841.19,424.69) rotate(-113.91)" points="0,-3.15 2.75,0 0,3.15 -2.75,0" fill="#F3AB87"/>
<g transform="translate(844.93,434.61) rotate(-107.49)"><path d="M-7.07,-7.07 L7.07,7.07 M7.07,-7.07 L-7.07,7.07" stroke="#9ECCB3" stroke-width="1.5" stroke-linecap="butt"/><rect x="-2.2" y="-2.2" width="4.4" height="4.4" rx="1.7" fill="#333836"/></g>
<polygon transform="translate(847.55,444.88) rotate(-101.06)" points="0,-3.15 2.75,0 0,3.15 -2.75,0" fill="#F3AB87"/>
<g transform="translate(848.99,455.37) rotate(-94.63)"><path d="M-7.07,-7.07 L7.07,7.07 M7.07,-7.07 L-7.07,7.07" stroke="#9ECCB3" stroke-width="1.5" stroke-linecap="butt"/><rect x="-2.2" y="-2.2" width="4.4" height="4.4" rx="1.7" fill="#333836"/></g>
<polygon transform="translate(849.25,465.97) rotate(-88.2)" points="0,-3.15 2.75,0 0,3.15 -2.75,0" fill="#F3AB87"/>
<g transform="translate(848.33,476.53) rotate(-81.77)"><path d="M-7.07,-7.07 L7.07,7.07 M7.07,-7.07 L-7.07,7.07" stroke="#9ECCB3" stroke-width="1.5" stroke-linecap="butt"/><rect x="-2.2" y="-2.2" width="4.4" height="4.4" rx="1.7" fill="#333836"/></g>
<polygon transform="translate(846.22,486.91) rotate(-75.34)" points="0,-3.15 2.75,0 0,3.15 -2.75,0" fill="#F3AB87"/>
<g transform="translate(842.97,497) rotate(-68.91)"><path d="M-7.07,-7.07 L7.07,7.07 M7.07,-7.07 L-7.07,7.07" stroke="#9ECCB3" stroke-width="1.5" stroke-linecap="butt"/><rect x="-2.2" y="-2.2" width="4.4" height="4.4" rx="1.7" fill="#333836"/></g>
<polygon transform="translate(838.61,506.66) rotate(-62.49)" points="0,-3.15 2.75,0 0,3.15 -2.75,0" fill="#F3AB87"/>
<g transform="translate(833.2,515.77) rotate(-56.06)"><path d="M-7.07,-7.07 L7.07,7.07 M7.07,-7.07 L-7.07,7.07" stroke="#9ECCB3" stroke-width="1.5" stroke-linecap="butt"/><rect x="-2.2" y="-2.2" width="4.4" height="4.4" rx="1.7" fill="#333836"/></g>
<polygon transform="translate(826.8,524.21) rotate(-49.63)" points="0,-3.15 2.75,0 0,3.15 -2.75,0" fill="#F3AB87"/>
<g transform="translate(819.49,531.89) rotate(-43.2)"><path d="M-7.07,-7.07 L7.07,7.07 M7.07,-7.07 L-7.07,7.07" stroke="#9ECCB3" stroke-width="1.5" stroke-linecap="butt"/><rect x="-2.2" y="-2.2" width="4.4" height="4.4" rx="1.7" fill="#333836"/></g>
<polygon transform="translate(811.37,538.7) rotate(-36.77)" points="0,-3.15 2.75,0 0,3.15 -2.75,0" fill="#F3AB87"/>
<g transform="translate(802.54,544.56) rotate(-30.34)"><path d="M-7.07,-7.07 L7.07,7.07 M7.07,-7.07 L-7.07,7.07" stroke="#9ECCB3" stroke-width="1.5" stroke-linecap="butt"/><rect x="-2.2" y="-2.2" width="4.4" height="4.4" rx="1.7" fill="#333836"/></g>
<polygon transform="translate(793.11,549.39) rotate(-23.91)" points="0,-3.15 2.75,0 0,3.15 -2.75,0" fill="#F3AB87"/>
<g transform="translate(783.19,553.13) rotate(-17.49)"><path d="M-7.07,-7.07 L7.07,7.07 M7.07,-7.07 L-7.07,7.07" stroke="#9ECCB3" stroke-width="1.5" stroke-linecap="butt"/><rect x="-2.2" y="-2.2" width="4.4" height="4.4" rx="1.7" fill="#333836"/></g>
<polygon transform="translate(772.92,555.75) rotate(-11.06)" points="0,-3.15 2.75,0 0,3.15 -2.75,0" fill="#F3AB87"/>
<g transform="translate(762.43,557.19) rotate(-4.63)"><path d="M-7.07,-7.07 L7.07,7.07 M7.07,-7.07 L-7.07,7.07" stroke="#9ECCB3" stroke-width="1.5" stroke-linecap="butt"/><rect x="-2.2" y="-2.2" width="4.4" height="4.4" rx="1.7" fill="#333836"/></g>
<polygon transform="translate(751.83,557.45) rotate(1.8)" points="0,-3.15 2.75,0 0,3.15 -2.75,0" fill="#F3AB87"/>
<g transform="translate(741.27,556.53) rotate(8.23)"><path d="M-7.07,-7.07 L7.07,7.07 M7.07,-7.07 L-7.07,7.07" stroke="#9ECCB3" stroke-width="1.5" stroke-linecap="butt"/><rect x="-2.2" y="-2.2" width="4.4" height="4.4" rx="1.7" fill="#333836"/></g>
<polygon transform="translate(730.89,554.42) rotate(14.66)" points="0,-3.15 2.75,0 0,3.15 -2.75,0" fill="#F3AB87"/>
<g transform="translate(720.8,551.17) rotate(21.09)"><path d="M-7.07,-7.07 L7.07,7.07 M7.07,-7.07 L-7.07,7.07" stroke="#9ECCB3" stroke-width="1.5" stroke-linecap="butt"/><rect x="-2.2" y="-2.2" width="4.4" height="4.4" rx="1.7" fill="#333836"/></g>
<polygon transform="translate(711.14,546.81) rotate(27.51)" points="0,-3.15 2.75,0 0,3.15 -2.75,0" fill="#F3AB87"/>
<g transform="translate(702.03,541.4) rotate(33.94)"><path d="M-7.07,-7.07 L7.07,7.07 M7.07,-7.07 L-7.07,7.07" stroke="#9ECCB3" stroke-width="1.5" stroke-linecap="butt"/><rect x="-2.2" y="-2.2" width="4.4" height="4.4" rx="1.7" fill="#333836"/></g>
<polygon transform="translate(693.59,535) rotate(40.37)" points="0,-3.15 2.75,0 0,3.15 -2.75,0" fill="#F3AB87"/>
<g transform="translate(685.91,527.69) rotate(46.8)"><path d="M-7.07,-7.07 L7.07,7.07 M7.07,-7.07 L-7.07,7.07" stroke="#9ECCB3" stroke-width="1.5" stroke-linecap="butt"/><rect x="-2.2" y="-2.2" width="4.4" height="4.4" rx="1.7" fill="#333836"/></g>
<polygon transform="translate(679.1,519.57) rotate(53.23)" points="0,-3.15 2.75,0 0,3.15 -2.75,0" fill="#F3AB87"/>
<g transform="translate(673.24,510.74) rotate(59.66)"><path d="M-7.07,-7.07 L7.07,7.07 M7.07,-7.07 L-7.07,7.07" stroke="#9ECCB3" stroke-width="1.5" stroke-linecap="butt"/><rect x="-2.2" y="-2.2" width="4.4" height="4.4" rx="1.7" fill="#333836"/></g>
<polygon transform="translate(668.41,501.31) rotate(66.09)" points="0,-3.15 2.75,0 0,3.15 -2.75,0" fill="#F3AB87"/>
<g transform="translate(664.67,491.39) rotate(72.51)"><path d="M-7.07,-7.07 L7.07,7.07 M7.07,-7.07 L-7.07,7.07" stroke="#9ECCB3" stroke-width="1.5" stroke-linecap="butt"/><rect x="-2.2" y="-2.2" width="4.4" height="4.4" rx="1.7" fill="#333836"/></g>
<polygon transform="translate(662.05,481.12) rotate(78.94)" points="0,-3.15 2.75,0 0,3.15 -2.75,0" fill="#F3AB87"/>
<g transform="translate(660.61,470.63) rotate(85.37)"><path d="M-7.07,-7.07 L7.07,7.07 M7.07,-7.07 L-7.07,7.07" stroke="#9ECCB3" stroke-width="1.5" stroke-linecap="butt"/><rect x="-2.2" y="-2.2" width="4.4" height="4.4" rx="1.7" fill="#333836"/></g>
<polygon transform="translate(660.35,460.03) rotate(91.8)" points="0,-3.15 2.75,0 0,3.15 -2.75,0" fill="#F3AB87"/>
<g transform="translate(661.27,449.47) rotate(98.23)"><path d="M-7.07,-7.07 L7.07,7.07 M7.07,-7.07 L-7.07,7.07" stroke="#9ECCB3" stroke-width="1.5" stroke-linecap="butt"/><rect x="-2.2" y="-2.2" width="4.4" height="4.4" rx="1.7" fill="#333836"/></g>
<polygon transform="translate(663.38,439.09) rotate(104.66)" points="0,-3.15 2.75,0 0,3.15 -2.75,0" fill="#F3AB87"/>
<g transform="translate(666.63,429) rotate(111.09)"><path d="M-7.07,-7.07 L7.07,7.07 M7.07,-7.07 L-7.07,7.07" stroke="#9ECCB3" stroke-width="1.5" stroke-linecap="butt"/><rect x="-2.2" y="-2.2" width="4.4" height="4.4" rx="1.7" fill="#333836"/></g>
<polygon transform="translate(670.99,419.34) rotate(117.51)" points="0,-3.15 2.75,0 0,3.15 -2.75,0" fill="#F3AB87"/>
<g transform="translate(676.4,410.23) rotate(123.94)"><path d="M-7.07,-7.07 L7.07,7.07 M7.07,-7.07 L-7.07,7.07" stroke="#9ECCB3" stroke-width="1.5" stroke-linecap="butt"/><rect x="-2.2" y="-2.2" width="4.4" height="4.4" rx="1.7" fill="#333836"/></g>
<polygon transform="translate(682.8,401.79) rotate(130.37)" points="0,-3.15 2.75,0 0,3.15 -2.75,0" fill="#F3AB87"/>
<g transform="translate(690.11,394.11) rotate(136.8)"><path d="M-7.07,-7.07 L7.07,7.07 M7.07,-7.07 L-7.07,7.07" stroke="#9ECCB3" stroke-width="1.5" stroke-linecap="butt"/><rect x="-2.2" y="-2.2" width="4.4" height="4.4" rx="1.7" fill="#333836"/></g>
<polygon transform="translate(698.23,387.3) rotate(143.23)" points="0,-3.15 2.75,0 0,3.15 -2.75,0" fill="#F3AB87"/>
<g transform="translate(707.06,381.44) rotate(149.66)"><path d="M-7.07,-7.07 L7.07,7.07 M7.07,-7.07 L-7.07,7.07" stroke="#9ECCB3" stroke-width="1.5" stroke-linecap="butt"/><rect x="-2.2" y="-2.2" width="4.4" height="4.4" rx="1.7" fill="#333836"/></g>
<polygon transform="translate(716.49,376.61) rotate(156.09)" points="0,-3.15 2.75,0 0,3.15 -2.75,0" fill="#F3AB87"/>
<g transform="translate(726.41,372.87) rotate(162.51)"><path d="M-7.07,-7.07 L7.07,7.07 M7.07,-7.07 L-7.07,7.07" stroke="#9ECCB3" stroke-width="1.5" stroke-linecap="butt"/><rect x="-2.2" y="-2.2" width="4.4" height="4.4" rx="1.7" fill="#333836"/></g>
<polygon transform="translate(736.68,370.25) rotate(168.94)" points="0,-3.15 2.75,0 0,3.15 -2.75,0" fill="#F3AB87"/>
<g transform="translate(747.17,368.81) rotate(175.37)"><path d="M-7.07,-7.07 L7.07,7.07 M7.07,-7.07 L-7.07,7.07" stroke="#9ECCB3" stroke-width="1.5" stroke-linecap="butt"/><rect x="-2.2" y="-2.2" width="4.4" height="4.4" rx="1.7" fill="#333836"/></g>
<polygon points="836.04,456.45 836.01,469.83 829.5,463.13" fill="#383737"/>
<polygon points="820.44,458.42 820.42,467.81 828.6,463.13" fill="#9ECCB3"/>
<circle cx="828.25" cy="470.14" r="2.15" fill="#F3AB87"/>
<polygon points="835.81,471.94 833.25,485.08 828.13,477.27" fill="#383737"/>
<polygon points="820.12,470.92 818.33,480.14 827.24,477.09" fill="#9ECCB3"/>
<circle cx="825.57" cy="483.92" r="2.15" fill="#F3AB87"/>
<polygon points="832.65,487.11 827.66,499.53 824.1,490.88" fill="#383737"/>
<polygon points="817.44,483.14 813.94,491.86 823.27,490.55" fill="#9ECCB3"/>
<circle cx="820.34" cy="496.93" r="2.15" fill="#F3AB87"/>
<polygon points="826.68,501.41 819.43,512.66 817.57,503.5" fill="#383737"/>
<polygon points="812.5,494.63 807.41,502.53 816.81,503.01" fill="#9ECCB3"/>
<circle cx="812.73" cy="508.72" r="2.15" fill="#F3AB87"/>
<polygon points="818.11,514.32 808.86,523.99 808.77,514.64" fill="#383737"/>
<polygon points="805.47,504.98 798.97,511.77 808.12,514.02" fill="#9ECCB3"/>
<circle cx="803.03" cy="518.86" r="2.15" fill="#F3AB87"/>
<polygon points="807.26,525.37 796.34,533.12 798.02,523.92" fill="#383737"/>
<polygon points="796.61,513.81 788.95,519.25 797.5,523.19" fill="#9ECCB3"/>
<circle cx="791.59" cy="526.98" r="2.15" fill="#F3AB87"/>
<polygon points="794.51,534.17 782.32,539.71 785.71,531" fill="#383737"/>
<polygon points="786.24,520.81 777.69,524.69 785.34,530.18" fill="#9ECCB3"/>
<circle cx="778.82" cy="532.78" r="2.15" fill="#F3AB87"/>
<polygon points="780.32,540.4 767.31,543.53 772.28,535.62" fill="#383737"/>
<polygon points="774.73,525.71 765.6,527.91 772.07,534.75" fill="#9ECCB3"/>
<circle cx="765.18" cy="536.07" r="2.15" fill="#F3AB87"/>
<polygon points="765.21,543.83 751.84,544.45 758.22,537.62" fill="#383737"/>
<polygon points="762.5,528.35 753.12,528.78 758.18,536.72" fill="#9ECCB3"/>
<circle cx="751.16" cy="536.71" r="2.15" fill="#F3AB87"/>
<polygon points="749.72,544.34 736.48,542.41 744.04,536.92" fill="#383737"/>
<polygon points="749.99,528.62 740.7,527.27 744.17,536.03" fill="#9ECCB3"/>
<circle cx="737.28" cy="534.69" r="2.15" fill="#F3AB87"/>
<polygon points="734.42,541.91 721.78,537.51 730.24,533.55" fill="#383737"/>
<polygon points="737.66,526.53 728.79,523.44 730.54,532.7" fill="#9ECCB3"/>
<circle cx="724.03" cy="530.08" r="2.15" fill="#F3AB87"/>
<polygon points="719.85,536.63 708.27,529.92 717.34,527.63" fill="#383737"/>
<polygon points="725.95,522.14 717.82,517.43 717.79,526.85" fill="#9ECCB3"/>
<circle cx="711.89" cy="523.04" r="2.15" fill="#F3AB87"/>
<polygon points="706.55,528.68 696.45,519.9 705.78,519.37" fill="#383737"/>
<polygon points="715.28,515.61 708.19,509.45 706.37,518.69" fill="#9ECCB3"/>
<circle cx="701.3" cy="513.83" r="2.15" fill="#F3AB87"/>
<polygon points="694.99,518.37 686.74,507.83 696,509.07" fill="#383737"/>
<polygon points="706.04,507.18 700.24,499.78 696.71,508.52" fill="#9ECCB3"/>
<circle cx="692.65" cy="502.79" r="2.15" fill="#F3AB87"/>
<polygon points="685.6,506.05 679.48,494.14 688.34,497.11" fill="#383737"/>
<polygon points="698.56,497.15 694.27,488.79 689.15,496.7" fill="#9ECCB3"/>
<circle cx="686.24" cy="490.31" r="2.15" fill="#F3AB87"/>
<polygon points="678.7,492.17 674.95,479.32 683.09,483.92" fill="#383737"/>
<polygon points="693.11,485.89 690.48,476.87 683.95,483.67" fill="#9ECCB3"/>
<circle cx="682.31" cy="476.84" r="2.15" fill="#F3AB87"/>
<polygon points="674.55,477.24 673.31,463.92 680.43,469.97" fill="#383737"/>
<polygon points="689.89,473.8 689.02,464.45 681.32,469.89" fill="#9ECCB3"/>
<circle cx="681" cy="462.87" r="2.15" fill="#F3AB87"/>
<polygon points="673.31,461.8 674.6,448.48 680.45,455.77" fill="#383737"/>
<polygon points="689.02,461.32 689.93,451.97 681.35,455.86" fill="#9ECCB3"/>
<circle cx="682.36" cy="448.91" r="2.15" fill="#F3AB87"/>
<polygon points="675.01,446.4 678.8,433.56 683.16,441.83" fill="#383737"/>
<polygon points="690.53,448.9 693.19,439.9 684.03,442.08" fill="#9ECCB3"/>
<circle cx="686.33" cy="435.45" r="2.15" fill="#F3AB87"/>
<polygon points="679.59,431.6 685.75,419.71 688.46,428.65" fill="#383737"/>
<polygon points="694.36,436.99 698.68,428.65 689.26,429.07" fill="#9ECCB3"/>
<circle cx="692.79" cy="422.99" r="2.15" fill="#F3AB87"/>
<polygon points="686.89,417.93 695.19,407.43 696.16,416.72" fill="#383737"/>
<polygon points="700.37,426.03 706.19,418.65 696.87,417.28" fill="#9ECCB3"/>
<circle cx="701.48" cy="411.98" r="2.15" fill="#F3AB87"/>
<polygon points="696.65,405.9 706.78,397.15 705.98,406.46" fill="#383737"/>
<polygon points="708.35,416.39 715.46,410.25 706.57,407.14" fill="#9ECCB3"/>
<circle cx="712.1" cy="402.81" r="2.15" fill="#F3AB87"/>
<polygon points="708.51,395.92 720.11,389.25 717.56,398.24" fill="#383737"/>
<polygon points="718.01,408.44 726.15,403.76 718.01,399.02" fill="#9ECCB3"/>
<circle cx="724.26" cy="395.82" r="2.15" fill="#F3AB87"/>
<polygon points="722.04,388.37 734.7,384.02 730.49,392.37" fill="#383737"/>
<polygon points="729,402.47 737.88,399.41 730.78,393.22" fill="#9ECCB3"/>
<circle cx="737.53" cy="391.25" r="2.15" fill="#F3AB87"/>
<polygon points="736.75,383.52 750.01,381.64 744.3,389.04" fill="#383737"/>
<polygon points="740.92,398.68 750.22,397.36 744.42,389.93" fill="#9ECCB3"/>
<circle cx="751.42" cy="389.28" r="2.15" fill="#F3AB87"/>
<polygon points="752.12,381.54 765.49,382.2 758.48,388.39" fill="#383737"/>
<polygon points="753.35,397.22 762.73,397.68 758.44,389.29" fill="#9ECCB3"/>
<circle cx="765.43" cy="389.97" r="2.15" fill="#F3AB87"/>
<polygon points="767.59,382.51 780.59,385.69 772.54,390.44" fill="#383737"/>
<polygon points="765.82,398.13 774.95,400.36 772.32,391.31" fill="#9ECCB3"/>
<circle cx="779.06" cy="393.3" r="2.15" fill="#F3AB87"/>
<polygon points="782.59,386.38 794.75,391.97 785.95,395.1" fill="#383737"/>
<polygon points="777.9,401.39 786.44,405.3 785.57,395.92" fill="#9ECCB3"/>
<circle cx="791.81" cy="399.15" r="2.15" fill="#F3AB87"/>
<polygon points="796.59,393.03 807.48,400.81 798.24,402.23" fill="#383737"/>
<polygon points="789.14,406.87 796.78,412.33 797.71,402.96" fill="#9ECCB3"/>
<circle cx="803.23" cy="407.31" r="2.15" fill="#F3AB87"/>
<polygon points="809.07,402.2 818.29,411.9 808.95,411.55" fill="#383737"/>
<polygon points="799.14,414.39 805.61,421.2 808.3,412.17" fill="#9ECCB3"/>
<circle cx="812.89" cy="417.48" r="2.15" fill="#F3AB87"/>
<polygon points="819.6,413.57 826.82,424.84 817.71,422.72" fill="#383737"/>
<polygon points="807.54,423.66 812.61,431.57 816.95,423.21" fill="#9ECCB3"/>
<circle cx="820.45" cy="429.3" r="2.15" fill="#F3AB87"/>
<polygon points="827.78,426.73 832.74,439.16 824.2,435.36" fill="#383737"/>
<polygon points="814.04,434.35 817.51,443.08 823.36,435.69" fill="#9ECCB3"/>
<circle cx="825.65" cy="442.33" r="2.15" fill="#F3AB87"/>
<polygon points="833.33,441.19 835.84,454.34 828.17,448.99" fill="#383737"/>
<polygon points="818.39,446.08 820.15,455.3 827.29,449.16" fill="#9ECCB3"/>
<circle cx="828.28" cy="456.11" r="2.15" fill="#F3AB87"/>
<polygon points="741.29,400.44 766.12,400.01 756.09,411.22 751.71,411.29" fill="#9ECCB3"/>
<g transform="translate(753.89,411.01) rotate(-181)"><path d="M-0.5,0 L-4.3,-9.2 M0,0 L0,-9.6 M0.5,0 L4.3,-9.0" stroke="#f2ad90" stroke-width="1.45" stroke-linecap="round"/></g>
<g transform="translate(770.22,406.26) rotate(-164.8)"><polyline points="-6.5,-3.9 0,3.7 6.5,-3.9" fill="none" stroke="#383737" stroke-width="2.3" stroke-linejoin="miter"/></g>
<polygon points="776.91,402.94 798.11,415.88 783.63,419.97 779.89,417.68" fill="#9ECCB3"/>
<g transform="translate(781.89,418.62) rotate(-148.6)"><path d="M-0.5,0 L-4.3,-9.2 M0,0 L0,-9.6 M0.5,0 L4.3,-9.0" stroke="#f2ad90" stroke-width="1.45" stroke-linecap="round"/></g>
<g transform="translate(798.19,423.31) rotate(-132.45)"><polyline points="-6.5,-3.9 0,3.7 6.5,-3.9" fill="none" stroke="#383737" stroke-width="2.3" stroke-linejoin="miter"/></g>
<polygon points="805.58,424.05 816.59,446.32 802.17,442.03 800.23,438.11" fill="#9ECCB3"/>
<g transform="translate(801.42,439.96) rotate(-116.3)"><path d="M-0.5,0 L-4.3,-9.2 M0,0 L0,-9.6 M0.5,0 L4.3,-9.0" stroke="#f2ad90" stroke-width="1.45" stroke-linecap="round"/></g>
<g transform="translate(812.66,452.54) rotate(-100.25)"><polyline points="-6.5,-3.9 0,3.7 6.5,-3.9" fill="none" stroke="#383737" stroke-width="2.3" stroke-linejoin="miter"/></g>
<polygon points="818.52,456.99 816.01,481.7 806.07,470.41 806.51,466.05" fill="#9ECCB3"/>
<g transform="translate(806.53,468.25) rotate(-84.2)"><path d="M-0.5,0 L-4.3,-9.2 M0,0 L0,-9.6 M0.5,0 L4.3,-9.0" stroke="#f2ad90" stroke-width="1.45" stroke-linecap="round"/></g>
<g transform="translate(809.58,484.36) rotate(-68.7)"><polyline points="-6.5,-3.9 0,3.7 6.5,-3.9" fill="none" stroke="#383737" stroke-width="2.3" stroke-linejoin="miter"/></g>
<polygon points="812.51,490.66 797.63,510.55 794.93,495.76 797.55,492.25" fill="#9ECCB3"/>
<g transform="translate(796.44,494.15) rotate(-53.2)"><path d="M-0.5,0 L-4.3,-9.2 M0,0 L0,-9.6 M0.5,0 L4.3,-9.0" stroke="#f2ad90" stroke-width="1.45" stroke-linecap="round"/></g>
<g transform="translate(789.53,510.45) rotate(-36.2)"><polyline points="-6.5,-3.9 0,3.7 6.5,-3.9" fill="none" stroke="#383737" stroke-width="2.3" stroke-linejoin="miter"/></g>
<polygon points="787.18,518.21 763.72,526.38 769.75,512.6 773.89,511.15" fill="#9ECCB3"/>
<g transform="translate(771.9,512.11) rotate(-19.2)"><path d="M-0.5,0 L-4.3,-9.2 M0,0 L0,-9.6 M0.5,0 L4.3,-9.0" stroke="#f2ad90" stroke-width="1.45" stroke-linecap="round"/></g>
<g transform="translate(758.18,521.7) rotate(-3.3)"><polyline points="-6.5,-3.9 0,3.7 6.5,-3.9" fill="none" stroke="#383737" stroke-width="2.3" stroke-linejoin="miter"/></g>
<polygon points="753.23,526.98 728.98,521.56 741.37,513.03 745.65,513.99" fill="#9ECCB3"/>
<g transform="translate(743.46,513.75) rotate(12.6)"><path d="M-0.5,0 L-4.3,-9.2 M0,0 L0,-9.6 M0.5,0 L4.3,-9.0" stroke="#f2ad90" stroke-width="1.45" stroke-linecap="round"/></g>
<g transform="translate(726.16,514.35) rotate(29.15)"><polyline points="-6.5,-3.9 0,3.7 6.5,-3.9" fill="none" stroke="#383737" stroke-width="2.3" stroke-linejoin="miter"/></g>
<polygon points="718.54,515.74 701.19,497.96 716.23,497.58 719.29,500.71" fill="#9ECCB3"/>
<g transform="translate(717.58,499.32) rotate(45.7)"><path d="M-0.5,0 L-4.3,-9.2 M0,0 L0,-9.6 M0.5,0 L4.3,-9.0" stroke="#f2ad90" stroke-width="1.45" stroke-linecap="round"/></g>
<g transform="translate(702.57,490.01) rotate(62.65)"><polyline points="-6.5,-3.9 0,3.7 6.5,-3.9" fill="none" stroke="#383737" stroke-width="2.3" stroke-linejoin="miter"/></g>
<polygon points="695.29,486.55 690.81,462.12 703.5,470.19 704.29,474.5" fill="#9ECCB3"/>
<g transform="translate(703.65,472.39) rotate(79.6)"><path d="M-0.5,0 L-4.3,-9.2 M0,0 L0,-9.6 M0.5,0 L4.3,-9.0" stroke="#f2ad90" stroke-width="1.45" stroke-linecap="round"/></g>
<g transform="translate(696.3,457.06) rotate(95.8)"><polyline points="-6.5,-3.9 0,3.7 6.5,-3.9" fill="none" stroke="#383737" stroke-width="2.3" stroke-linejoin="miter"/></g>
<polygon points="691.94,451 701.24,427.96 707.64,441.58 705.99,445.64" fill="#9ECCB3"/>
<g transform="translate(706.59,443.52) rotate(112)"><path d="M-0.5,0 L-4.3,-9.2 M0,0 L0,-9.6 M0.5,0 L4.3,-9.0" stroke="#f2ad90" stroke-width="1.45" stroke-linecap="round"/></g>
<g transform="translate(709.27,425.8) rotate(129.25)"><polyline points="-6.5,-3.9 0,3.7 6.5,-3.9" fill="none" stroke="#383737" stroke-width="2.3" stroke-linejoin="miter"/></g>
<polygon points="709.79,417.5 730.51,403.79 728.06,418.63 724.41,421.05" fill="#9ECCB3"/>
<g transform="translate(726.1,419.64) rotate(146.5)"><path d="M-0.5,0 L-4.3,-9.2 M0,0 L0,-9.6 M0.5,0 L4.3,-9.0" stroke="#f2ad90" stroke-width="1.45" stroke-linecap="round"/></g>
<g transform="translate(737.36,406.84) rotate(162.75)"><polyline points="-6.5,-3.9 0,3.7 6.5,-3.9" fill="none" stroke="#383737" stroke-width="2.3" stroke-linejoin="miter"/></g>
<polygon points="730.3,460 750.3,460 742.7,448 737.9,448" fill="#9ECCB3"/><path d="M739.7,448 L735.8,437.5 M740.3,448 L740.3,437 M740.9,448 L744.8,437.5" stroke="#F3AB87" stroke-width="1.7" stroke-linecap="round"/><polyline points="737.1,458.4 740.3,455.4 743.5,458.4" fill="none" stroke="#2e3a35" stroke-width="1.6"/><polygon points="759.3,460 779.3,460 771.7,448 766.9,448" fill="#9ECCB3"/><path d="M768.7,448 L764.8,437.5 M769.3,448 L769.3,437 M769.9,448 L773.8,437.5" stroke="#F3AB87" stroke-width="1.7" stroke-linecap="round"/><polyline points="766.1,458.4 769.3,455.4 772.5,458.4" fill="none" stroke="#2e3a35" stroke-width="1.6"/><polyline points="748,450.6 755,458.4 762,450.6" fill="none" stroke="#383737" stroke-width="2.7" stroke-linejoin="miter"/><path d="M749,446.2 L749,444.6 A6,6 0 0 1 761,444.6 L761,446.2" fill="none" stroke="#9ECCB3" stroke-width="2.1"/><circle cx="755" cy="446.0" r="1.4" fill="#F3AB87"/>
<g transform="translate(0,925.2) scale(1,-1)"><polygon points="730.3,460 750.3,460 742.7,448 737.9,448" fill="#9ECCB3"/><path d="M739.7,448 L735.8,437.5 M740.3,448 L740.3,437 M740.9,448 L744.8,437.5" stroke="#F3AB87" stroke-width="1.7" stroke-linecap="round"/><polyline points="737.1,458.4 740.3,455.4 743.5,458.4" fill="none" stroke="#2e3a35" stroke-width="1.6"/><polygon points="759.3,460 779.3,460 771.7,448 766.9,448" fill="#9ECCB3"/><path d="M768.7,448 L764.8,437.5 M769.3,448 L769.3,437 M769.9,448 L773.8,437.5" stroke="#F3AB87" stroke-width="1.7" stroke-linecap="round"/><polyline points="766.1,458.4 769.3,455.4 772.5,458.4" fill="none" stroke="#2e3a35" stroke-width="1.6"/><polyline points="748,450.6 755,458.4 762,450.6" fill="none" stroke="#383737" stroke-width="2.7" stroke-linejoin="miter"/><path d="M749,446.2 L749,444.6 A6,6 0 0 1 761,444.6 L761,446.2" fill="none" stroke="#9ECCB3" stroke-width="2.1"/><circle cx="755" cy="446.0" r="1.4" fill="#F3AB87"/></g>
</svg></body></html>
